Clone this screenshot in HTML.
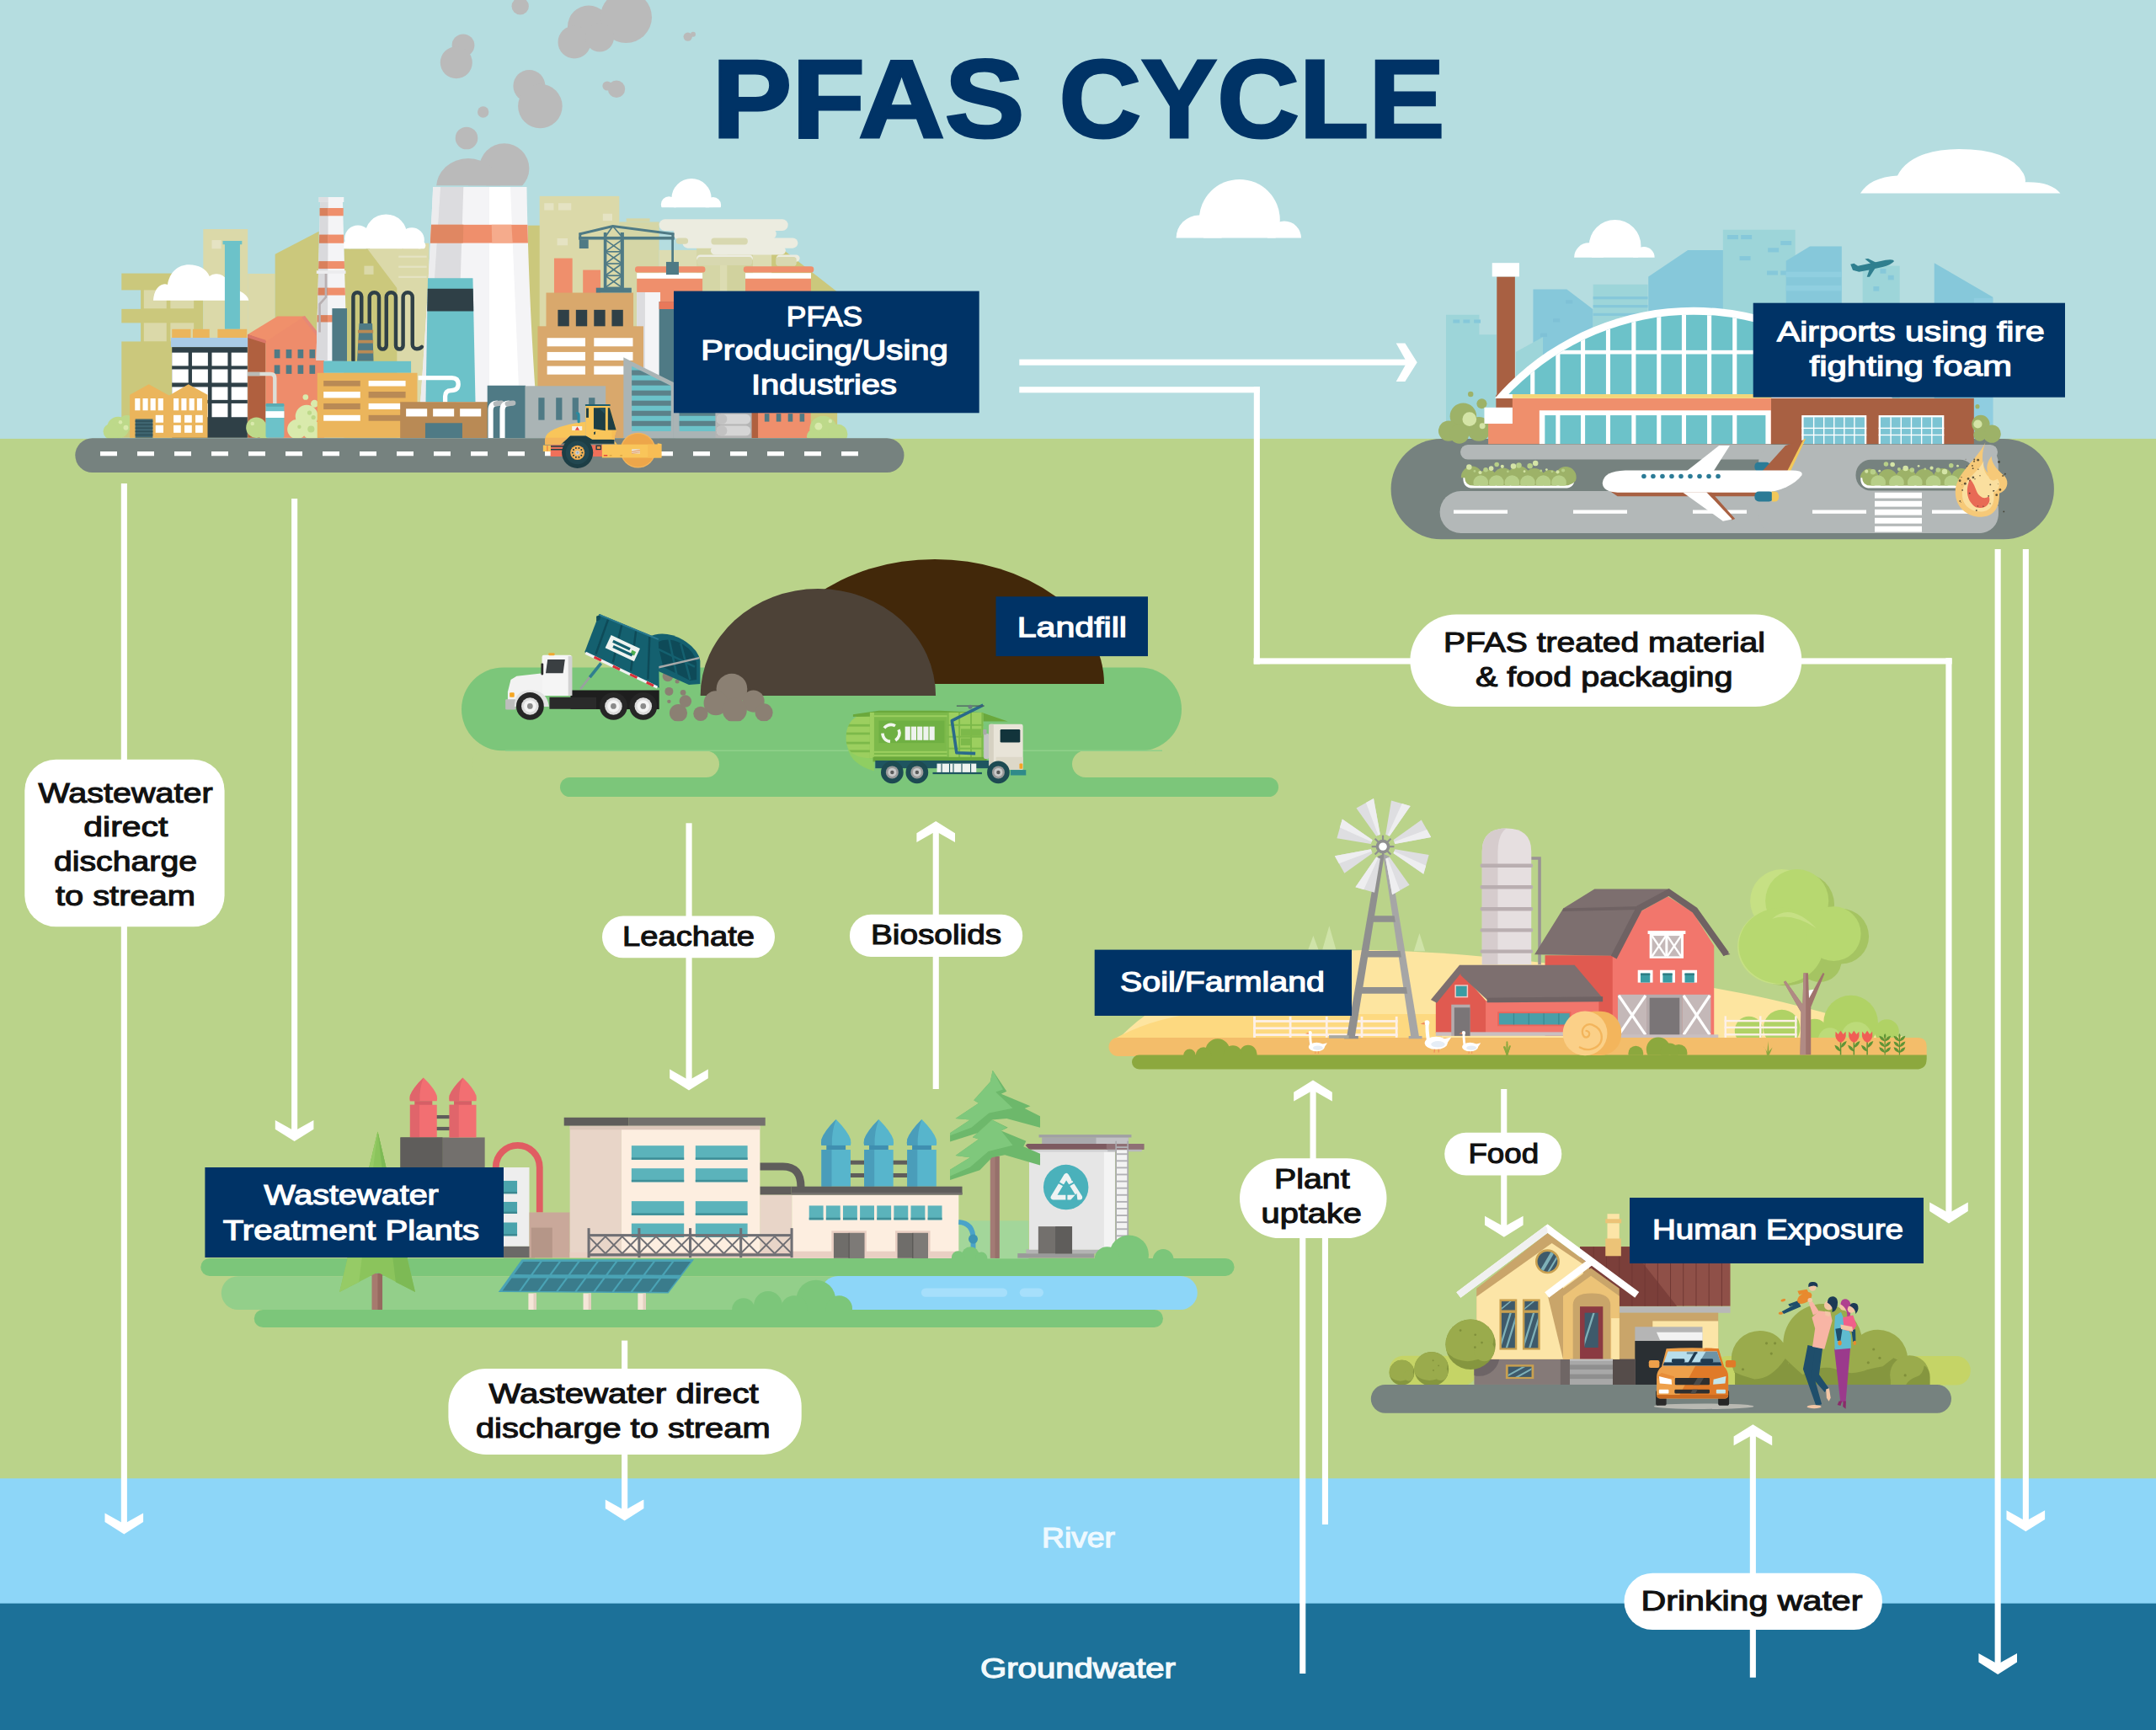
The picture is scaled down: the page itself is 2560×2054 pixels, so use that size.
<!DOCTYPE html>
<html><head><meta charset="utf-8"><title>PFAS Cycle</title>
<style>
html,body{margin:0;padding:0;background:#bad38a;}
svg{display:block;}
text{font-family:"Liberation Sans",sans-serif;}
</style></head><body>
<svg xmlns="http://www.w3.org/2000/svg" width="2560" height="2054" viewBox="0 0 2560 2054">
<g id="bg">
<rect x="0" y="0" width="2560" height="522" fill="#b5dde0"/>
<rect x="0" y="520.9" width="2560" height="1236" fill="#bad38a"/>
<rect x="0" y="1755.3" width="2560" height="150" fill="#8dd6f8"/>
<rect x="0" y="1903.7" width="2560" height="151" fill="#1c7199"/>
</g>
<g id="factory">
<clipPath id="chim"><polygon points="1349,-138 1492,-138 1520,905 1323,905"/></clipPath>
<g transform="translate(130,260) scale(0.185529)">
<rect x="77" y="348" width="523" height="1052" fill="#cbc87c" />
<rect x="220" y="455" width="145" height="118" fill="#dbd9a9" />
<rect x="390" y="455" width="150" height="118" fill="#dbd9a9" />
<rect x="220" y="665" width="145" height="118" fill="#dbd9a9" />
<rect x="390" y="665" width="150" height="118" fill="#dbd9a9" />
<rect x="70" y="455" width="130" height="121" fill="#b5dde0" />
<rect x="70" y="665" width="130" height="119" fill="#b5dde0" />
<rect x="600" y="65" width="285" height="1335" fill="#dbd9a9" />
<rect x="655" y="135" width="60" height="55" fill="#e5e3c3" />
<rect x="885" y="350" width="175" height="1050" fill="#dbd9a9" />
<polygon points="1060,225 1340,80 1340,1400 1060,1400" fill="#cbc87c" />
<rect x="1500" y="190" width="350" height="1210" fill="#cbc87c" />
<polygon points="1650,190 1850,190 1850,455" fill="#dbd9a9" />
<rect x="1630" y="300" width="60" height="55" fill="#dbd9a9" />
<rect x="1840" y="155" width="205" height="1245" fill="#dbd9a9" />
<rect x="1850" y="235" width="180" height="12" fill="#e5e3c3" />
<rect x="1850" y="300" width="180" height="12" fill="#e5e3c3" />
<rect x="1850" y="365" width="180" height="12" fill="#e5e3c3" />
</g>
<g transform="translate(560,180) scale(0.278293)">
<rect x="240" y="315" width="70" height="907" fill="#cbc87c" />
<rect x="290" y="190" width="340" height="1032" fill="#dbd9a9" />
<rect x="310" y="220" width="40" height="30" fill="#e5e3c3" />
<rect x="370" y="220" width="55" height="30" fill="#e5e3c3" />
<rect x="560" y="265" width="40" height="30" fill="#e5e3c3" />
<rect x="365" y="370" width="45" height="30" fill="#e5e3c3" />
<rect x="630" y="300" width="170" height="922" fill="#d5d6a6" />
<rect x="660" y="285" width="100" height="15" fill="#d5d6a6" />
<rect x="800" y="420" width="490" height="802" fill="#dcdcb2" />
<polygon points="1280,380 1560,598 1560,1222 1280,1222" fill="#cbc87c" />
<rect x="960" y="400" width="100" height="200" fill="#d5d6a6" />
<rect x="1090" y="380" width="110" height="220" fill="#d1d29e" />
<rect x="800" y="288" width="550" height="50" fill="#ecece0" rx="25" />
<rect x="860" y="330" width="440" height="42" fill="#ecece0" rx="20" />
<rect x="900" y="368" width="492" height="44" fill="#ecece0" rx="22" />
<rect x="1020" y="405" width="320" height="35" fill="#ecece0" rx="18" />
<rect x="960" y="440" width="240" height="30" fill="#ecece0" rx="15" />
<rect x="1300" y="440" width="100" height="30" fill="#ecece0" rx="15" />
<rect x="872" y="368" width="52" height="26" fill="#d8d8b0" rx="13" />
<rect x="1022" y="368" width="156" height="29" fill="#d8d8b0" rx="13" />
<rect x="963" y="449" width="234" height="36" fill="#d8d8b0" rx="13" />
<rect x="1298" y="449" width="88" height="39" fill="#d8d8b0" rx="13" />
<clipPath id="cl3"><rect x="780" y="100" width="320" height="138"/></clipPath><g clip-path="url(#cl3)">
<circle cx="938" cy="200" r="85" fill="#fff" />
<circle cx="842" cy="225" r="34" fill="#fff" />
<circle cx="1030" cy="228" r="34" fill="#fff" />
<rect x="842" y="210" width="188" height="28" fill="#fff" />
</g>
</g>
<g transform="translate(130,260) scale(0.185529)">
<path d="M280,521.7 C285,460 310,425 345,418 Q358,415 372,420 C385,340 440,293 508,293 C570,293 620,320 640,366 Q660,350 688,352 C740,356 770,400 772,450 Q800,445 835,462 C870,480 888,500 891,521.7 Z" fill="#fff" />
<clipPath id="cl2"><rect x="1480" y="-100" width="600" height="290"/></clipPath><g clip-path="url(#cl2)">
<circle cx="1770" cy="105" r="135" fill="#fff" />
<circle cx="1590" cy="125" r="85" fill="#fff" />
<circle cx="1935" cy="135" r="80" fill="#fff" />
<circle cx="1520" cy="170" r="30" fill="#fff" />
<circle cx="1995" cy="170" r="28" fill="#fff" />
<rect x="1520" y="140" width="475" height="50" fill="#fff" />
</g>
</g>
<g transform="translate(80,180) scale(0.278293)">
<clipPath id="ct"><path d="M1560,150 L1960,150 C1965,500 1985,900 2012,1222 L1495,1222 C1520,900 1545,500 1560,150 Z"/></clipPath>
<g clip-path="url(#ct)">
<rect x="1480" y="150" width="540" height="1072" fill="#f4f4f6" />
<polygon points="1590,150 1690,150 1655,1222 1520,1222" fill="#dcdcdf" />
<polygon points="1560,150 1592,150 1522,1222 1495,1222" fill="#ececee" />
<polygon points="1800,150 1890,150 1935,1222 1800,1222" fill="#ffffff" />
<rect x="1480" y="312" width="540" height="78" fill="#ef8f6c" />
<polygon points="1540,312 1690,312 1688,390 1535,390" fill="#e08762" />
<polygon points="1810,312 1895,312 1900,390 1812,390" fill="#f5ab8c" />
</g>
</g>
<g transform="translate(130,260) scale(0.185529)">
<circle cx="55" cy="1335" r="70" fill="#bdd98a" />
<circle cx="110" cy="1305" r="50" fill="#bdd98a" />
<circle cx="10" cy="1360" r="50" fill="#bdd98a" />
<circle cx="70" cy="1300" r="12" fill="#d9eaac" />
<circle cx="105" cy="1335" r="16" fill="#d9eaac" />
<rect x="738" y="160" width="97" height="545" fill="#6cc2c9" />
<rect x="725" y="140" width="123" height="23" fill="#6cc2c9" />
<rect x="400" y="705" width="120" height="55" fill="#ebb55c" />
<rect x="533" y="705" width="107" height="55" fill="#ebb55c" />
<rect x="692" y="705" width="188" height="55" fill="#ebb55c" />
<rect x="393" y="760" width="505" height="60" fill="#a9cbe6" />
<rect x="400" y="820" width="483" height="580" fill="#2f4047" />
<rect x="400" y="855" width="105" height="85" fill="#fff" />
<rect x="528" y="855" width="102" height="85" fill="#fff" />
<rect x="655" y="855" width="102" height="85" fill="#fff" />
<rect x="780" y="855" width="103" height="85" fill="#fff" />
<rect x="400" y="962" width="105" height="86" fill="#fff" />
<rect x="528" y="962" width="102" height="86" fill="#fff" />
<rect x="655" y="962" width="102" height="86" fill="#fff" />
<rect x="780" y="962" width="103" height="86" fill="#fff" />
<rect x="400" y="1075" width="105" height="83" fill="#fff" />
<rect x="528" y="1075" width="102" height="83" fill="#fff" />
<rect x="655" y="1075" width="102" height="83" fill="#fff" />
<rect x="780" y="1075" width="103" height="83" fill="#fff" />
<rect x="400" y="1180" width="105" height="88" fill="#fff" />
<rect x="528" y="1180" width="102" height="88" fill="#fff" />
<rect x="655" y="1180" width="102" height="88" fill="#fff" />
<rect x="780" y="1180" width="103" height="88" fill="#fff" />
<polygon points="130,1400 130,1125 252,1058 378,1128 385,1128 505,1058 628,1125 628,1400" fill="#ebb55c" />
<rect x="163" y="1148" width="33" height="77" fill="#fff" />
<rect x="213" y="1148" width="33" height="77" fill="#fff" />
<rect x="262" y="1148" width="33" height="77" fill="#fff" />
<rect x="311" y="1148" width="33" height="77" fill="#fff" />
<rect x="410" y="1148" width="33" height="77" fill="#fff" />
<rect x="460" y="1148" width="33" height="77" fill="#fff" />
<rect x="510" y="1148" width="33" height="77" fill="#fff" />
<rect x="560" y="1148" width="33" height="77" fill="#fff" />
<rect x="295" y="1255" width="50" height="48" fill="#fff" />
<rect x="410" y="1255" width="47" height="48" fill="#fff" />
<rect x="480" y="1255" width="47" height="48" fill="#fff" />
<rect x="550" y="1255" width="47" height="48" fill="#fff" />
<rect x="295" y="1320" width="50" height="48" fill="#fff" />
<rect x="410" y="1320" width="47" height="48" fill="#fff" />
<rect x="480" y="1320" width="47" height="48" fill="#fff" />
<rect x="550" y="1320" width="47" height="48" fill="#fff" />
<rect x="165" y="1280" width="112" height="120" fill="#3f6570" />
<rect x="165" y="1290" width="112" height="8" fill="#2f4f58" />
<rect x="165" y="1312" width="112" height="8" fill="#2f4f58" />
<rect x="165" y="1334" width="112" height="8" fill="#2f4f58" />
<rect x="165" y="1356" width="112" height="8" fill="#2f4f58" />
<rect x="165" y="1378" width="112" height="8" fill="#2f4f58" />
<polygon points="885,738 1075,622 1252,622 1002,795" fill="#f0906b" />
<polygon points="885,738 1000,782 1000,1400 885,1400" fill="#b0603f" />
<polygon points="885,738 1000,775 1000,797 885,760" fill="#d97568" />
<polygon points="1000,786 1250,621 1374,800 1374,1400 1000,1400" fill="#ee8c6b" />
<polygon points="1232,628 1250,620 1388,795 1370,803" fill="#e58878" />
<rect x="1055" y="835" width="36" height="56" fill="#4f7a85" />
<rect x="1130" y="835" width="36" height="56" fill="#4f7a85" />
<rect x="1205" y="835" width="36" height="56" fill="#4f7a85" />
<rect x="1280" y="835" width="36" height="56" fill="#4f7a85" />
<rect x="1055" y="935" width="36" height="56" fill="#4f7a85" />
<rect x="1130" y="935" width="36" height="56" fill="#4f7a85" />
<rect x="1205" y="935" width="36" height="56" fill="#4f7a85" />
<rect x="1280" y="935" width="36" height="56" fill="#4f7a85" />
<circle cx="940" cy="1335" r="66" fill="#bdd98a" />
<circle cx="990" cy="1370" r="40" fill="#bdd98a" />
<circle cx="915" cy="1310" r="12" fill="#d9eaac" />
<circle cx="1262" cy="1262" r="72" fill="#d9eaac" />
<circle cx="1200" cy="1345" r="62" fill="#d9eaac" />
<circle cx="1295" cy="1350" r="62" fill="#d9eaac" />
<circle cx="1255" cy="1140" r="18" fill="#d9eaac" />
<circle cx="1312" cy="1182" r="24" fill="#d9eaac" />
<circle cx="1280" cy="1240" r="14" fill="#bdd98a" />
<circle cx="1215" cy="1330" r="12" fill="#bdd98a" />
<circle cx="1290" cy="1345" r="22" fill="#bdd98a" />
<circle cx="1305" cy="1270" r="14" fill="#bdd98a" />
<path d="M885,992 H1030 Q1058,992 1058,1020 V1190" fill="none" stroke="#dcdfd8" stroke-width="24" />
<rect x="885" y="980" width="77" height="24" fill="#b9bbb6" />
<rect x="1000" y="1180" width="118" height="220" fill="#6cc2c9" rx="14" />
<rect x="1000" y="1230" width="118" height="42" fill="#fff" />
<rect x="1000" y="1180" width="118" height="20" fill="#5aaab2" rx="8" />
<polygon points="1349,-138 1492,-138 1520,905 1323,905" fill="#f4f4f6" />
<polygon points="1349,-138 1400,-138 1395,905 1323,905" fill="#d9d9dc" />
<rect x="1340" y="-140" width="160" height="32" fill="#f4f4f6" />
<rect x="1340" y="-140" width="60" height="32" fill="#dfdfe2" />
<rect x="1345" y="-70" width="55" height="50" fill="#d9805c" /><rect x="1398" y="-70" width="99" height="50" fill="#ef8f6c" />
<g clip-path="url(#chim)"><rect x="1300" y="100" width="100" height="55" fill="#d9805c" /><rect x="1398" y="100" width="142" height="55" fill="#ef8f6c" /></g>
<g clip-path="url(#chim)"><rect x="1300" y="270" width="100" height="48" fill="#d9805c" /><rect x="1398" y="270" width="142" height="48" fill="#ef8f6c" /></g>
<g clip-path="url(#chim)"><rect x="1300" y="440" width="100" height="48" fill="#d9805c" /><rect x="1398" y="440" width="142" height="48" fill="#ef8f6c" /></g>
<g clip-path="url(#chim)"><rect x="1300" y="615" width="100" height="45" fill="#d9805c" /><rect x="1398" y="615" width="142" height="45" fill="#ef8f6c" /></g>
<rect x="1325" y="330" width="187" height="20" fill="#ececee" />
<path d="M1385,350 V500 L1345,545 V725" fill="none" stroke="#b8b0b2" stroke-width="14" />
<rect x="1425" y="572" width="95" height="338" fill="#4f7a85" />
<path d="M1560,905 V496.5 a26.5,26.5 0 0 1 53,0 V700 M1664,700 V500.5 a30.5,30.5 0 0 1 61,0 V810 a23.5,23.5 0 0 0 47,0 V500 a30.25,30.25 0 0 1 60.5,0 V810 a23.25,23.25 0 0 0 46.5,0 V500 a30,30 0 0 1 60,0 V803 a28,28 0 0 0 28,28 q20,0 32,-12" fill="none" stroke="#2f4047" stroke-width="24" stroke-linecap="round"/>
<polygon points="1598,668 1682,668 1690,910 1585,910" fill="#4f7a85" />
<rect x="1590" y="710" width="98" height="20" fill="#b98a55" />
<rect x="1590" y="775" width="98" height="20" fill="#b98a55" />
<rect x="1590" y="840" width="98" height="20" fill="#b98a55" />
</g>
<g transform="translate(80,180) scale(0.278293)">
<polygon points="1538,540 1730,540 1741,1068 1529,1068" fill="#6cc2c9" />
<polygon points="1537,585 1731,585 1733,681 1535,681" fill="#2f4047" />
<path d="M1497,965 H1640 q28,0 28,27 q0,27 -30,27 q-26,0 -26,25 V1070" fill="none" stroke="#fff" stroke-width="19" />
</g>
<g transform="translate(130,260) scale(0.185529)">
<rect x="1370" y="910" width="560" height="75" fill="#6cc2c9" />
<rect x="1330" y="985" width="640" height="415" fill="#ebb55c" />
<rect x="1370" y="1035" width="235" height="35" fill="#b98a55" />
<rect x="1658" y="1035" width="237" height="35" fill="#fff" />
<rect x="1370" y="1105" width="235" height="40" fill="#fff" />
<rect x="1658" y="1105" width="237" height="40" fill="#b98a55" />
<rect x="1370" y="1180" width="235" height="38" fill="#b98a55" />
<rect x="1658" y="1180" width="237" height="38" fill="#fff" />
<rect x="1370" y="1255" width="235" height="37" fill="#fff" />
<rect x="1658" y="1255" width="237" height="37" fill="#b98a55" />
</g>
<g transform="translate(80,180) scale(0.278293)">
<rect x="1420" y="1068" width="375" height="154" fill="#b98a55" />
<rect x="1445" y="1097" width="90" height="33" fill="#fff" />
<rect x="1560" y="1097" width="90" height="33" fill="#fff" />
<rect x="1675" y="1097" width="90" height="33" fill="#fff" />
<rect x="1527" y="1158" width="158" height="64" fill="#4f7a85" />
<rect x="1792" y="998" width="163" height="224" fill="#4f7a85" />
<path d="M1806,1222 V1102 q0,-28 30,-29" fill="none" stroke="#fff" stroke-width="22" />
<path d="M1828,1076 q12,-3 24,-3" fill="none" stroke="#b3b9bb" stroke-width="22" stroke-linecap="round"/>
<path d="M1856,1222 V1102 q0,-28 30,-29" fill="none" stroke="#fff" stroke-width="22" />
<path d="M1878,1076 q12,-3 24,-3" fill="none" stroke="#b3b9bb" stroke-width="22" stroke-linecap="round"/>
</g>
<g transform="translate(560,180) scale(0.278293)">
<rect x="352" y="455" width="78" height="157" fill="#ef8f6c" />
<rect x="475" y="505" width="75" height="107" fill="#ef8f6c" />
<rect x="697" y="490" width="300" height="26" fill="#ef8f6c" rx="12" />
<rect x="705" y="518" width="280" height="24" fill="#fff" />
<rect x="705" y="542" width="280" height="98" fill="#ef8f6c" />
<rect x="1160" y="490" width="300" height="26" fill="#ef8f6c" rx="12" />
<rect x="1168" y="518" width="280" height="24" fill="#fff" />
<rect x="1168" y="542" width="280" height="98" fill="#ef8f6c" />
<rect x="705" y="600" width="100" height="622" fill="#f4f4f6" />
<rect x="705" y="600" width="35" height="622" fill="#dcdcdf" />
<rect x="800" y="640" width="70" height="582" fill="#4f7a85" />
<rect x="800" y="640" width="70" height="32" fill="#e8785a" />
<rect x="318" y="602" width="372" height="158" fill="#d9a86c" />
<rect x="282" y="745" width="451" height="477" fill="#d9a86c" />
<rect x="368" y="675" width="48" height="70" fill="#2f4047" />
<rect x="445" y="675" width="48" height="70" fill="#2f4047" />
<rect x="522" y="675" width="48" height="70" fill="#2f4047" />
<rect x="598" y="675" width="48" height="70" fill="#2f4047" />
<rect x="322" y="795" width="163" height="36" fill="#fff" />
<rect x="522" y="795" width="166" height="36" fill="#fff" />
<rect x="322" y="855" width="163" height="36" fill="#fff" />
<rect x="522" y="855" width="166" height="36" fill="#fff" />
<rect x="322" y="915" width="163" height="36" fill="#fff" />
<rect x="522" y="915" width="166" height="36" fill="#fff" />
<rect x="531" y="581" width="151" height="21" fill="#4f7a85" />
<rect x="563.4" y="345" width="13.0" height="245" fill="#4f7a85" />
<rect x="635" y="345" width="15" height="245" fill="#4f7a85" />
<line x1="570" y1="376" x2="642" y2="427" stroke="#4f7a85" stroke-width="6" />
<line x1="642" y1="376" x2="570" y2="427" stroke="#4f7a85" stroke-width="6" />
<line x1="570" y1="427" x2="642" y2="427" stroke="#4f7a85" stroke-width="6" />
<line x1="570" y1="427" x2="642" y2="478" stroke="#4f7a85" stroke-width="6" />
<line x1="642" y1="427" x2="570" y2="478" stroke="#4f7a85" stroke-width="6" />
<line x1="570" y1="478" x2="642" y2="478" stroke="#4f7a85" stroke-width="6" />
<line x1="570" y1="478" x2="642" y2="529" stroke="#4f7a85" stroke-width="6" />
<line x1="642" y1="478" x2="570" y2="529" stroke="#4f7a85" stroke-width="6" />
<line x1="570" y1="529" x2="642" y2="529" stroke="#4f7a85" stroke-width="6" />
<line x1="570" y1="529" x2="642" y2="580" stroke="#4f7a85" stroke-width="6" />
<line x1="642" y1="529" x2="570" y2="580" stroke="#4f7a85" stroke-width="6" />
<line x1="570" y1="580" x2="642" y2="580" stroke="#4f7a85" stroke-width="6" />
<rect x="457.4" y="362.6" width="406.9" height="13.0" fill="#4f7a85" />
<path d="M459.4,352 L602.4,318 L863.7,352" fill="none" stroke="#4f7a85" stroke-width="10.5" stroke-linejoin="miter"/>
<rect x="457.4" y="347" width="10.600000000000023" height="29" fill="#4f7a85" />
<rect x="853" y="347" width="11.299999999999955" height="29" fill="#4f7a85" />
<line x1="602.4" y1="318" x2="570" y2="364" stroke="#4f7a85" stroke-width="6" />
<line x1="602.4" y1="318" x2="642" y2="364" stroke="#4f7a85" stroke-width="6" />
<rect x="459.4" y="375" width="39.0" height="38.30000000000001" fill="#4f7a85" />
<rect x="852.6" y="370" width="9.799999999999955" height="102" fill="#4f7a85" />
<rect x="829.9" y="470.5" width="53.89999999999998" height="54.60000000000002" fill="#4f7a85" />
<rect x="228" y="1000" width="344" height="222" fill="#aab4b5" />
<rect x="285" y="1050" width="26" height="95" fill="#4f7a85" />
<rect x="360" y="1050" width="26" height="95" fill="#4f7a85" />
<rect x="430" y="1050" width="26" height="95" fill="#4f7a85" />
<rect x="500" y="1050" width="26" height="95" fill="#4f7a85" />
<polygon points="648,878 862,985 862,1222 648,1222" fill="#aab4b5" />
<clipPath id="gl"><polygon points="683,915 851,1000 851,1193 683,1193"/></clipPath><g clip-path="url(#gl)">
<rect x="680" y="900" width="180" height="300" fill="#6cc2c9" />
<rect x="680" y="932.6" width="180" height="21.700000000000045" fill="#5b8189" />
<rect x="680" y="975.9" width="180" height="21.700000000000045" fill="#5b8189" />
<rect x="680" y="1019.2" width="180" height="21.700000000000045" fill="#5b8189" />
<rect x="680" y="1062.5" width="180" height="21.700000000000045" fill="#5b8189" />
<rect x="680" y="1105.8" width="180" height="21.700000000000045" fill="#5b8189" />
<rect x="680" y="1149.1" width="180" height="21.700000000000045" fill="#5b8189" />
</g>
<rect x="860" y="1113" width="185" height="109" fill="#aab4b5" />
<rect x="886" y="1113" width="159" height="80" fill="#6cc2c9" />
<rect x="886" y="1105.8" width="159" height="21.700000000000045" fill="#5b8189" />
<rect x="886" y="1149.1" width="159" height="21.700000000000045" fill="#5b8189" />
<rect x="1040" y="1113" width="160" height="109" fill="#b5b5b5" />
<rect x="1045" y="1120" width="145" height="42" fill="#d5d5d5" rx="20" />
<rect x="1045" y="1120" width="45" height="42" fill="#c2c2c2" rx="20" />
<rect x="1045" y="1170" width="145" height="42" fill="#d5d5d5" rx="20" />
<rect x="1045" y="1170" width="45" height="42" fill="#c2c2c2" rx="20" />
<rect x="1195" y="1113" width="30" height="109" fill="#b0603f" />
<rect x="1222" y="1113" width="225" height="109" fill="#ef8f6c" />
<rect x="1250" y="1118" width="20" height="34" fill="#4f7a85" />
<rect x="1300" y="1118" width="20" height="34" fill="#4f7a85" />
<rect x="1350" y="1118" width="20" height="34" fill="#4f7a85" />
<rect x="1400" y="1118" width="20" height="34" fill="#4f7a85" />
<circle cx="1500" cy="1185" r="58" fill="#bdd98a" />
<circle cx="1562" cy="1205" r="42" fill="#bdd98a" />
<circle cx="1460" cy="1215" r="30" fill="#bdd98a" />
<circle cx="1480" cy="1172" r="16" fill="#d9eaac" />
<circle cx="1530" cy="1150" r="8" fill="#d9eaac" />
</g>
<rect x="89.3" y="520.2" width="984.2" height="40.799999999999955" fill="#76827f" rx="20.4" />
<rect x="119" y="536" width="20" height="5.2999999999999545" fill="#fff" />
<rect x="163" y="536" width="20" height="5.2999999999999545" fill="#fff" />
<rect x="207" y="536" width="20" height="5.2999999999999545" fill="#fff" />
<rect x="251" y="536" width="20" height="5.2999999999999545" fill="#fff" />
<rect x="295" y="536" width="20" height="5.2999999999999545" fill="#fff" />
<rect x="339" y="536" width="20" height="5.2999999999999545" fill="#fff" />
<rect x="383" y="536" width="20" height="5.2999999999999545" fill="#fff" />
<rect x="427" y="536" width="20" height="5.2999999999999545" fill="#fff" />
<rect x="471" y="536" width="20" height="5.2999999999999545" fill="#fff" />
<rect x="515" y="536" width="20" height="5.2999999999999545" fill="#fff" />
<rect x="559" y="536" width="20" height="5.2999999999999545" fill="#fff" />
<rect x="603" y="536" width="20" height="5.2999999999999545" fill="#fff" />
<rect x="647" y="536" width="20" height="5.2999999999999545" fill="#fff" />
<rect x="691" y="536" width="20" height="5.2999999999999545" fill="#fff" />
<rect x="735" y="536" width="20" height="5.2999999999999545" fill="#fff" />
<rect x="779" y="536" width="20" height="5.2999999999999545" fill="#fff" />
<rect x="823" y="536" width="20" height="5.2999999999999545" fill="#fff" />
<rect x="867" y="536" width="20" height="5.2999999999999545" fill="#fff" />
<rect x="911" y="536" width="20" height="5.2999999999999545" fill="#fff" />
<rect x="955" y="536" width="20" height="5.2999999999999545" fill="#fff" />
<rect x="999" y="536" width="20" height="5.2999999999999545" fill="#fff" />
<g transform="translate(630,440) scale(0.092764)">
<circle cx="1375" cy="1020" r="226" fill="#f3b55c" />
<circle cx="1375" cy="1020" r="212" fill="#eda64a" />
<rect x="255" y="952" width="670" height="148" fill="#f0705a" />
<rect x="255" y="962" width="175" height="16" fill="#1d3e45" />
<rect x="255" y="1002" width="175" height="16" fill="#1d3e45" />
<rect x="835" y="955" width="70" height="60" fill="#1d3e45" />
<rect x="850" y="970" width="42" height="32" fill="#f08a4a" />
<rect x="915" y="945" width="760" height="170" fill="#f9c55a" />
<rect x="1500" y="945" width="175" height="170" fill="#f7bd55" />
<polygon points="1625,930 1675,938 1675,950 1625,950" fill="#f9c55a" />
<polygon points="1075,900 1110,945 1075,945" fill="#f9c55a" />
<rect x="1295" y="1005" width="105" height="57" fill="#e9e2d2" />
<line x1="1295" y1="1040" x2="1400" y2="1018" stroke="#e88a4a" stroke-width="10" />
<line x1="1295" y1="1062" x2="1400" y2="1042" stroke="#e88a4a" stroke-width="8" />
<rect x="935" y="1078" width="50" height="17" fill="#e8443a" rx="6" />
<rect x="1010" y="1080" width="30" height="13" fill="#d9a040" />
<rect x="1145" y="1080" width="30" height="13" fill="#d9a040" />
<rect x="160" y="955" width="98" height="80" fill="#f9c55a" />
<rect x="205" y="960" width="17" height="70" fill="#f08a4a" />
<polygon points="400,930 510,832 720,832 790,882 1068,882 1068,935 790,935" fill="#1d3e45" />
<path d="M185,945 V880 Q190,800 300,752 Q450,682 705,655 L705,832 L505,832 L385,945 Z" fill="#f9c55a" />
<path d="M185,945 V880 Q188,868 195,860 L480,860 L385,945 Z" fill="#f3b55c" />
<rect x="530" y="712" width="130" height="54" fill="#f4f0ea" />
<polygon points="570,762 598,716 626,762" fill="#e8443a" />
<path d="M616,655 V575 Q616,548 596,545" fill="none" stroke="#2a8aa0" stroke-width="34" stroke-linecap="round"/>
<polygon points="705,448 1005,448 1012,470 1100,760 1078,832 1078,882 790,882 705,832" fill="#f9c55a" />
<polygon points="1040,760 1100,760 1078,832 1078,882 1040,882" fill="#f7bd55" />
<rect x="700" y="430" width="320" height="23" fill="#1f5f70" rx="6" />
<rect x="712" y="480" width="31" height="122" fill="#1d3e45" />
<polygon points="808,478 958,478 958,768 808,746" fill="#1d3e45" />
<polygon points="990,478 1012,478 1096,760 990,760" fill="#1d3e45" />
<polygon points="808,478 958,478 958,560 870,478" fill="#24505a" />
<polygon points="808,790 832,780 828,815 812,822" fill="#1d3e45" />
<circle cx="600" cy="1050" r="200" fill="#1d3e45" />
<circle cx="600" cy="1050" r="150" fill="#224750" />
<circle cx="600" cy="1050" r="92" fill="#eda64a" />
<circle cx="600" cy="1050" r="80" fill="#f3b55c" />
<circle cx="662.0" cy="1050.0" r="11" fill="#1d3e45" />
<circle cx="650.1590536512467" cy="1086.4426856421333" r="11" fill="#1d3e45" />
<circle cx="619.1590536512467" cy="1108.9655040102996" r="11" fill="#1d3e45" />
<circle cx="580.8409463487533" cy="1108.9655040102996" r="11" fill="#1d3e45" />
<circle cx="549.8409463487533" cy="1086.4426856421333" r="11" fill="#1d3e45" />
<circle cx="538.0" cy="1050.0" r="11" fill="#1d3e45" />
<circle cx="549.8409463487533" cy="1013.5573143578666" r="11" fill="#1d3e45" />
<circle cx="580.8409463487533" cy="991.0344959897005" r="11" fill="#1d3e45" />
<circle cx="619.1590536512467" cy="991.0344959897004" r="11" fill="#1d3e45" />
<circle cx="650.1590536512467" cy="1013.5573143578666" r="11" fill="#1d3e45" />
<circle cx="600" cy="1050" r="27" fill="#c9cfd2" />
<circle cx="600" cy="1050" r="12" fill="#8fa0a8" />
</g>
<circle cx="617.7" cy="7.4" r="10.2" fill="#bababa" />
<circle cx="699" cy="31.5" r="25" fill="#bababa" />
<circle cx="743.4" cy="20.4" r="30.6" fill="#bababa" />
<circle cx="682" cy="50" r="19.5" fill="#bababa" />
<circle cx="712" cy="44.5" r="17" fill="#bababa" />
<circle cx="550" cy="53.8" r="13.4" fill="#bababa" />
<circle cx="541.8" cy="74.2" r="19" fill="#bababa" />
<circle cx="816.7" cy="43.6" r="5.2" fill="#bababa" />
<circle cx="823" cy="40.8" r="3" fill="#bababa" />
<circle cx="628.4" cy="102" r="19" fill="#bababa" />
<circle cx="641.4" cy="126" r="26.3" fill="#bababa" />
<circle cx="732" cy="105.8" r="10.2" fill="#bababa" />
<circle cx="721" cy="102" r="5.6" fill="#bababa" />
<circle cx="573.7" cy="133" r="6.7" fill="#bababa" />
<circle cx="554" cy="164" r="13.3" fill="#bababa" />
<clipPath id="smk"><rect x="500" y="150" width="140" height="70.3"/></clipPath><g clip-path="url(#smk)">
<circle cx="598.7" cy="200" r="29.7" fill="#bababa" />
<ellipse cx="556" cy="223" rx="38" ry="35" fill="#bababa" />
<rect x="556" y="200" width="64" height="25" fill="#bababa" />
</g>
</g>
<g id="airport">
<g transform="translate(1640,260) scale(0.231911)">
<polygon points="332,490 502,490 502,592 590,592 590,1125 332,1125" fill="#9dd5d9" />
<rect x="368" y="515" width="34" height="18" fill="#86c8da" />
<rect x="420" y="515" width="34" height="18" fill="#86c8da" />
<rect x="475" y="515" width="34" height="18" fill="#86c8da" />
<polygon points="778,360 950,360 1085,462 1085,1125 778,1125" fill="#86c8da" />
<rect x="945" y="415" width="35" height="18" fill="#7fc1d6" />
<rect x="880" y="510" width="35" height="18" fill="#7fc1d6" />
<rect x="815" y="585" width="35" height="18" fill="#7fc1d6" />
<polygon points="690,680 828,605 828,1125 690,1125" fill="#9dd5d9" />
<rect x="1085" y="335" width="280" height="790" fill="#9dd5d9" />
<rect x="1085" y="397" width="280" height="14" fill="#86c8da" />
<rect x="1085" y="440" width="280" height="14" fill="#86c8da" />
<rect x="1085" y="482" width="280" height="14" fill="#86c8da" />
<polygon points="1368,295 1570,160 1768,160 1768,1125 1368,1125" fill="#86c8da" />
<rect x="1750" y="55" width="370" height="1070" fill="#9dd5d9" />
<rect x="1772" y="82" width="56" height="22" fill="#86c8da" />
<rect x="1842" y="82" width="56" height="22" fill="#86c8da" />
<rect x="2045" y="112" width="56" height="22" fill="#86c8da" />
<rect x="1980" y="148" width="56" height="22" fill="#86c8da" />
<rect x="1835" y="190" width="56" height="22" fill="#86c8da" />
<rect x="1975" y="265" width="56" height="22" fill="#86c8da" />
<rect x="2045" y="265" width="56" height="22" fill="#86c8da" />
<clipPath id="cl4"><rect x="950" y="-20" width="500" height="217"/></clipPath><g clip-path="url(#cl4)">
<circle cx="1197" cy="137" r="133" fill="#fff" />
<circle cx="1063" cy="197" r="75" fill="#fff" />
<circle cx="1345" cy="197" r="55" fill="#fff" />
</g>
</g>
<g transform="translate(2040,260) scale(0.231911)">
<polygon points="348,215 470,140 633,140 633,1125 348,1125" fill="#86c8da" />
<rect x="348" y="270" width="285" height="28" fill="#90cfe0" />
<rect x="348" y="340" width="285" height="28" fill="#90cfe0" />
<rect x="740" y="240" width="190" height="885" fill="#9dd5d9" />
<rect x="870" y="288" width="30" height="24" fill="#86c8da" />
<rect x="795" y="345" width="30" height="24" fill="#86c8da" />
<rect x="830" y="255" width="30" height="24" fill="#86c8da" />
<polygon points="1107,225 1407,400 1407,1125 1107,1125" fill="#86c8da" />
<rect x="1310" y="405" width="97" height="720" fill="#8fcde0" />
<path d="M678,232 L696,227 L716,240 L858,210 Q900,203 901,217 Q884,236 842,246 L803,254 L776,296 L762,296 L774,261 L722,271 L690,262 Z" fill="#2f7f8f" />
<polygon points="752,205 768,203 820,228 790,235" fill="#2f7f8f" />
</g>
<rect x="1651.6" y="521" width="787.3000000000002" height="119.29999999999995" fill="#76827f" rx="59.6" />
<g transform="translate(1640,260) scale(0.231911)">
<circle cx="420" cy="1010" r="68" fill="#9db268" />
<circle cx="345" cy="1085" r="52" fill="#9db268" />
<circle cx="500" cy="1075" r="62" fill="#9db268" />
<circle cx="515" cy="945" r="26" fill="#9db268" />
<circle cx="458" cy="897" r="14" fill="#9db268" />
<circle cx="400" cy="1100" r="50" fill="#9db268" />
<circle cx="452" cy="1025" r="36" fill="#d4e4a6" />
<circle cx="518" cy="1060" r="15" fill="#d4e4a6" />
<rect x="592" y="295" width="93" height="670" fill="#a86042" />
<rect x="568" y="225" width="139" height="70" fill="#fff" />
<rect x="588" y="900" width="84" height="68" fill="#a86042" />
<polygon points="548,1048 672,1048 672,918 1998,918 1998,1152 548,1152" fill="#ef8f6c" />
<rect x="528" y="965" width="144" height="83" fill="#fff" />
<clipPath id="dm1"><rect x="560" y="300" width="2100" height="618"/></clipPath>
<clipPath id="dm2"><rect x="560" y="300" width="2100" height="597"/></clipPath>
<g clip-path="url(#dm1)"><circle cx="1600" cy="1796" r="1344" fill="#fff" /></g>
<g clip-path="url(#dm2)"><circle cx="1600" cy="1796" r="1306" fill="#6cc2c9" />
<clipPath id="dm3"><circle cx="1600" cy="1796" r="1306"/></clipPath><g clip-path="url(#dm3)">
<rect x="764" y="400" width="22" height="500" fill="#fff" />
<rect x="894" y="400" width="22" height="500" fill="#fff" />
<rect x="1022" y="400" width="22" height="500" fill="#fff" />
<rect x="1151" y="400" width="22" height="500" fill="#fff" />
<rect x="1282" y="400" width="22" height="500" fill="#fff" />
<rect x="1411" y="400" width="22" height="500" fill="#fff" />
<rect x="1539" y="400" width="22" height="500" fill="#fff" />
<rect x="1669" y="400" width="22" height="500" fill="#fff" />
<rect x="1799" y="400" width="22" height="500" fill="#fff" />
<rect x="1928" y="400" width="22" height="500" fill="#fff" />
<rect x="2057" y="400" width="22" height="500" fill="#fff" />
<rect x="560" y="672" width="1640" height="20" fill="#fff" />
</g></g>
<rect x="672" y="897" width="1326" height="21" fill="#f3d67a" />
<rect x="810" y="980" width="1185" height="172" fill="#fff" />
<rect x="838" y="1005" width="56" height="147" fill="#6cc2c9" />
<rect x="916" y="1005" width="106" height="147" fill="#6cc2c9" />
<rect x="1044" y="1005" width="107" height="147" fill="#6cc2c9" />
<rect x="1173" y="1005" width="109" height="147" fill="#6cc2c9" />
<rect x="1304" y="1005" width="107" height="147" fill="#6cc2c9" />
<rect x="1433" y="1005" width="106" height="147" fill="#6cc2c9" />
<rect x="1561" y="1005" width="108" height="147" fill="#6cc2c9" />
<rect x="1691" y="1005" width="108" height="147" fill="#6cc2c9" />
<rect x="1821" y="1005" width="147" height="147" fill="#6cc2c9" />
<rect x="1998" y="918" width="302" height="234" fill="#a86042" />
</g>
<g transform="translate(2040,260) scale(0.231911)">
<rect x="272" y="918" width="1038" height="234" fill="#a86042" />
<rect x="428" y="1005" width="332" height="147" fill="#fff" />
<rect x="438" y="1015" width="312" height="137" fill="#7cc4d3" />
<rect x="428" y="1068" width="332" height="6" fill="#fff" />
<rect x="428" y="1103" width="332" height="6" fill="#fff" />
<rect x="487.0" y="1015" width="6.0" height="137" fill="#fff" />
<rect x="539.0" y="1015" width="6.0" height="137" fill="#fff" />
<rect x="591.0" y="1015" width="6.0" height="137" fill="#fff" />
<rect x="643.0" y="1015" width="6.0" height="137" fill="#fff" />
<rect x="695.0" y="1015" width="6.0" height="137" fill="#fff" />
<rect x="822" y="1005" width="335" height="147" fill="#fff" />
<rect x="832" y="1015" width="315" height="137" fill="#7cc4d3" />
<rect x="822" y="1068" width="335" height="6" fill="#fff" />
<rect x="822" y="1103" width="335" height="6" fill="#fff" />
<rect x="881.5" y="1015" width="6.0" height="137" fill="#fff" />
<rect x="934.0" y="1015" width="6.0" height="137" fill="#fff" />
<rect x="986.5" y="1015" width="6.0" height="137" fill="#fff" />
<rect x="1039.0" y="1015" width="6.0" height="137" fill="#fff" />
<rect x="1091.5" y="1015" width="6.0" height="137" fill="#fff" />
<circle cx="1345" cy="1050" r="46" fill="#9db268" />
<circle cx="1402" cy="1100" r="46" fill="#9db268" />
<circle cx="1340" cy="1105" r="32" fill="#9db268" />
<circle cx="1328" cy="960" r="11" fill="#9db268" />
<circle cx="1330" cy="1050" r="22" fill="#d4e4a6" />
</g>
<rect x="1734" y="527.9" width="638" height="17.600000000000023" fill="#b3b8b8" rx="8.8" />
<rect x="1709.6" y="583" width="663.2000000000003" height="50" fill="#b3b8b8" rx="25" />
<rect x="2088" y="527.9" width="284.8000000000002" height="105.10000000000002" fill="#b3b8b8" rx="22" />
<rect x="2203.5" y="545.7" width="141.5" height="36.89999999999998" fill="#76827f" rx="18" />
<rect x="1726" y="605.5" width="64" height="4.2999999999999545" fill="#fff" />
<rect x="1868" y="605.5" width="64" height="4.2999999999999545" fill="#fff" />
<rect x="2010" y="605.5" width="64" height="4.2999999999999545" fill="#fff" />
<rect x="2152" y="605.5" width="64" height="4.2999999999999545" fill="#fff" />
<rect x="2294" y="605.5" width="64" height="4.2999999999999545" fill="#fff" />
<rect x="2226" y="584.8" width="56" height="6.7999999999999545" fill="#fff" />
<rect x="2226" y="594.8" width="56" height="6.7999999999999545" fill="#fff" />
<rect x="2226" y="604.8" width="56" height="6.7999999999999545" fill="#fff" />
<rect x="2226" y="614.8" width="56" height="6.7999999999999545" fill="#fff" />
<rect x="2226" y="624.8" width="56" height="6.7999999999999545" fill="#fff" />
<g transform="translate(1640,260) scale(0.231911)">
<clipPath id="pl420"><path d="M400,1200 H1010 V1325 Q982,1366 935,1366 H475 Q428,1366 428,1325 L400,1325 Z"/></clipPath>
<path d="M420,1315 H990 V1330 Q990,1378 940,1378 H470 Q420,1378 420,1330 Z" fill="#fff" />
<g clip-path="url(#pl420)">
<circle cx="465.0" cy="1322" r="56" fill="#9db268" />
<circle cx="545.0" cy="1334" r="51" fill="#9db268" />
<circle cx="625.0" cy="1326" r="52" fill="#9db268" />
<circle cx="705.0" cy="1323" r="58" fill="#9db268" />
<circle cx="785.0" cy="1332" r="56" fill="#9db268" />
<circle cx="865.0" cy="1332" r="47" fill="#9db268" />
<circle cx="945.0" cy="1322" r="54" fill="#9db268" />
<circle cx="510.0" cy="1350" r="38" fill="#b7cf88" />
<circle cx="590.0" cy="1350" r="38" fill="#b7cf88" />
<circle cx="670.0" cy="1350" r="38" fill="#b7cf88" />
<circle cx="750.0" cy="1350" r="38" fill="#b7cf88" />
<circle cx="830.0" cy="1350" r="38" fill="#b7cf88" />
<circle cx="910.0" cy="1350" r="38" fill="#b7cf88" />
<circle cx="450.0" cy="1270" r="14" fill="#d4e4a6" />
<circle cx="478.3333333333333" cy="1291" r="6" fill="#b7cf88" />
<circle cx="506.6666666666667" cy="1298" r="9" fill="#d4e4a6" />
<circle cx="535.0" cy="1284" r="12" fill="#b7cf88" />
<circle cx="563.3333333333334" cy="1277" r="12" fill="#d4e4a6" />
<circle cx="591.6666666666666" cy="1257" r="12" fill="#b7cf88" />
<circle cx="620.0" cy="1267" r="9" fill="#d4e4a6" />
<circle cx="648.3333333333334" cy="1293" r="6" fill="#b7cf88" />
<circle cx="676.6666666666666" cy="1266" r="14" fill="#d4e4a6" />
<circle cx="705.0" cy="1261" r="14" fill="#b7cf88" />
<circle cx="733.3333333333333" cy="1292" r="6" fill="#d4e4a6" />
<circle cx="761.6666666666667" cy="1265" r="14" fill="#b7cf88" />
<circle cx="790.0" cy="1250" r="14" fill="#d4e4a6" />
<circle cx="818.3333333333333" cy="1289" r="6" fill="#b7cf88" />
<circle cx="846.6666666666667" cy="1283" r="6" fill="#d4e4a6" />
<circle cx="875.0" cy="1293" r="6" fill="#b7cf88" />
<circle cx="903.3333333333333" cy="1295" r="9" fill="#d4e4a6" />
<circle cx="931.6666666666667" cy="1287" r="9" fill="#b7cf88" />
</g>
</g>
<g transform="translate(2040,260) scale(0.231911)">
<clipPath id="pl730"><path d="M710,1200 H1310 V1325 Q1282,1366 1235,1366 H785 Q738,1366 738,1325 L710,1325 Z"/></clipPath>
<path d="M730,1315 H1290 V1330 Q1290,1378 1240,1378 H780 Q730,1378 730,1330 Z" fill="#fff" />
<g clip-path="url(#pl730)">
<circle cx="775.0" cy="1326" r="47" fill="#9db268" />
<circle cx="869.0" cy="1331" r="50" fill="#9db268" />
<circle cx="963.0" cy="1331" r="54" fill="#9db268" />
<circle cx="1057.0" cy="1332" r="53" fill="#9db268" />
<circle cx="1151.0" cy="1324" r="48" fill="#9db268" />
<circle cx="1245.0" cy="1326" r="50" fill="#9db268" />
<circle cx="820.0" cy="1350" r="38" fill="#b7cf88" />
<circle cx="914.0" cy="1350" r="38" fill="#b7cf88" />
<circle cx="1008.0" cy="1350" r="38" fill="#b7cf88" />
<circle cx="1102.0" cy="1350" r="38" fill="#b7cf88" />
<circle cx="1196.0" cy="1350" r="38" fill="#b7cf88" />
<circle cx="760.0" cy="1292" r="9" fill="#d4e4a6" />
<circle cx="793.3333333333334" cy="1295" r="14" fill="#b7cf88" />
<circle cx="826.6666666666666" cy="1290" r="6" fill="#d4e4a6" />
<circle cx="860.0" cy="1255" r="12" fill="#b7cf88" />
<circle cx="893.3333333333334" cy="1257" r="12" fill="#d4e4a6" />
<circle cx="926.6666666666666" cy="1281" r="9" fill="#b7cf88" />
<circle cx="960.0" cy="1276" r="14" fill="#d4e4a6" />
<circle cx="993.3333333333334" cy="1285" r="12" fill="#b7cf88" />
<circle cx="1026.6666666666667" cy="1265" r="6" fill="#d4e4a6" />
<circle cx="1060.0" cy="1280" r="6" fill="#b7cf88" />
<circle cx="1093.3333333333333" cy="1275" r="9" fill="#d4e4a6" />
<circle cx="1126.6666666666667" cy="1285" r="12" fill="#b7cf88" />
<circle cx="1160.0" cy="1294" r="14" fill="#d4e4a6" />
<circle cx="1193.3333333333333" cy="1262" r="12" fill="#b7cf88" />
<circle cx="1226.6666666666667" cy="1264" r="6" fill="#d4e4a6" />
</g>
</g>
<g transform="translate(1640,260) scale(0.231911)">
<rect x="1912" y="1245" width="80" height="47" fill="#2b7b96" rx="20" />
<polygon points="1950,1292 2070,1160 2160,1132 2172,1128 2088,1292" fill="#a86042" />
<polygon points="2160,1132 2175,1122 2095,1292 2078,1292" fill="#f3c85a" />
<polygon points="1560,1294 1730,1160 1785,1160 1700,1294" fill="#fff" />
<polygon points="1160,1385 1990,1385 1930,1420 1210,1420" fill="#a86042" />
<path d="M1133,1352 Q1138,1290 1250,1287 H2100 Q2165,1287 2153,1312 Q2130,1345 2075,1372 Q2015,1400 1950,1400 H1210 Q1135,1398 1133,1352 Z" fill="#fff" />
<circle cx="1345.0" cy="1317" r="12" fill="#2b7b96" />
<circle cx="1392.5" cy="1317" r="12" fill="#2b7b96" />
<circle cx="1440.0" cy="1317" r="12" fill="#2b7b96" />
<circle cx="1487.5" cy="1317" r="12" fill="#2b7b96" />
<circle cx="1535.0" cy="1317" r="12" fill="#2b7b96" />
<circle cx="1582.5" cy="1317" r="12" fill="#2b7b96" />
<circle cx="1630.0" cy="1317" r="12" fill="#2b7b96" />
<circle cx="1677.5" cy="1317" r="12" fill="#2b7b96" />
<circle cx="1725.0" cy="1317" r="12" fill="#2b7b96" />
<polygon points="1665,1400 1692,1400 1812,1535 1795,1542" fill="#a86042" />
<polygon points="1545,1400 1667,1400 1797,1537 1750,1547" fill="#fff" />
<rect x="1912" y="1395" width="96" height="52" fill="#2b7b96" rx="22" />
<path d="M2000,1395 H2015 Q2036,1395 2036,1421 Q2036,1447 2015,1447 H2000 Z" fill="#f3c85a" />
</g>
<g transform="translate(2040,260) scale(0.231911)">
<path d="M1375,1130 C1335,1230 1213,1300 1215,1400 C1217,1480 1280,1527 1350,1525 C1430,1523 1442,1450 1440,1405 C1480,1392 1492,1350 1470,1320 C1440,1290 1402,1262 1400,1215 C1380,1240 1370,1270 1382,1300 C1342,1262 1350,1180 1375,1130 Z" fill="#f6c978" />
<path d="M1360,1240 C1330,1300 1250,1340 1250,1410 C1250,1470 1300,1500 1350,1498 C1400,1496 1420,1450 1410,1400 C1440,1390 1450,1350 1430,1330 C1410,1345 1390,1340 1385,1320 C1365,1300 1355,1270 1360,1240 Z" fill="#fadf9f" />
<path d="M1290,1330 C1268,1380 1268,1440 1320,1476 C1372,1492 1402,1450 1386,1420 C1362,1440 1332,1420 1322,1390 C1312,1360 1302,1345 1290,1330 Z" fill="#e86a55" />
<circle cx="1394" cy="1360" r="4" fill="#3a3326" opacity="0.8"/>
<circle cx="1438" cy="1244" r="6" fill="#3a3326" opacity="0.8"/>
<circle cx="1433" cy="1357" r="2" fill="#3a3326" opacity="0.8"/>
<circle cx="1465" cy="1310" r="2" fill="#3a3326" opacity="0.8"/>
<circle cx="1330" cy="1470" r="3" fill="#3a3326" opacity="0.8"/>
<circle cx="1332" cy="1282" r="3" fill="#3a3326" opacity="0.8"/>
<circle cx="1238" cy="1340" r="6" fill="#3a3326" opacity="0.8"/>
<circle cx="1306" cy="1323" r="6" fill="#3a3326" opacity="0.8"/>
<circle cx="1275" cy="1266" r="3" fill="#3a3326" opacity="0.8"/>
<circle cx="1393" cy="1457" r="3" fill="#3a3326" opacity="0.8"/>
<circle cx="1268" cy="1230" r="2" fill="#3a3326" opacity="0.8"/>
<circle cx="1288" cy="1340" r="3" fill="#3a3326" opacity="0.8"/>
<circle cx="1458" cy="1315" r="4" fill="#3a3326" opacity="0.8"/>
<circle cx="1315" cy="1331" r="3" fill="#3a3326" opacity="0.8"/>
<circle cx="1281" cy="1330" r="6" fill="#3a3326" opacity="0.8"/>
<circle cx="1311" cy="1241" r="4" fill="#3a3326" opacity="0.8"/>
<circle cx="1341" cy="1314" r="3" fill="#3a3326" opacity="0.8"/>
<circle cx="1302" cy="1263" r="4" fill="#3a3326" opacity="0.8"/>
<circle cx="1312" cy="1231" r="4" fill="#3a3326" opacity="0.8"/>
<circle cx="1251" cy="1388" r="4" fill="#3a3326" opacity="0.8"/>
<circle cx="1444" cy="1386" r="6" fill="#3a3326" opacity="0.8"/>
<circle cx="1413" cy="1391" r="3" fill="#3a3326" opacity="0.8"/>
<circle cx="1358" cy="1471" r="3" fill="#3a3326" opacity="0.8"/>
<circle cx="1249" cy="1361" r="2" fill="#3a3326" opacity="0.8"/>
<circle cx="1426" cy="1413" r="6" fill="#3a3326" opacity="0.8"/>
<circle cx="1239" cy="1444" r="4" fill="#3a3326" opacity="0.8"/>
<circle cx="1331" cy="1234" r="6" fill="#3a3326" opacity="0.8"/>
<circle cx="1246" cy="1322" r="3" fill="#3a3326" opacity="0.8"/>
<circle cx="1265" cy="1355" r="6" fill="#3a3326" opacity="0.8"/>
<circle cx="1323" cy="1492" r="4" fill="#3a3326" opacity="0.8"/>
<circle cx="1463" cy="1498" r="4" fill="#3a3326" opacity="0.8"/>
<circle cx="1433" cy="1466" r="2" fill="#3a3326" opacity="0.8"/>
<circle cx="1385" cy="1418" r="4" fill="#3a3326" opacity="0.8"/>
<circle cx="1244" cy="1451" r="2" fill="#3a3326" opacity="0.8"/>
<circle cx="1288" cy="1404" r="4" fill="#3a3326" opacity="0.8"/>
<circle cx="1470" cy="1305" r="4" fill="#3a3326" opacity="0.8"/>
<circle cx="1305" cy="1277" r="4" fill="#3a3326" opacity="0.8"/>
<circle cx="1410" cy="1392" r="4" fill="#3a3326" opacity="0.8"/>
</g>
<clipPath id="cl5"><rect x="1380" y="190" width="200" height="92.4"/></clipPath><g clip-path="url(#cl5)">
<circle cx="1471.8" cy="260.9" r="48" fill="#fff" /><circle cx="1423.6" cy="282.6" r="27" fill="#fff" /><circle cx="1525" cy="282.6" r="20" fill="#fff" /></g>
<g transform="translate(2180,160) scale(0.139147)">
<path d="M208,500 Q290,362 525,348 Q640,128 1050,122 Q1480,122 1600,330 Q1622,372 1615,405 Q1830,398 1915,500 Z" fill="#fff" />
</g>
</g>
<g id="landfill">
<rect x="548" y="792.5" width="855" height="99.0" fill="#7cc67a" rx="49.5" />
<rect x="665" y="923" width="853" height="23" fill="#7cc67a" rx="11.5" />
<rect x="838" y="880" width="453" height="55" fill="#7cc67a" />
<rect x="560" y="891.5" width="294" height="31.5" fill="#bad38a" rx="15.7" />
<rect x="1273" y="891" width="147" height="32" fill="#bad38a" rx="16" />
<rect x="600" y="890.5" width="780" height="1.5" fill="#8fd08a" />
<g transform="translate(530,640) scale(0.278293)">
<clipPath id="mb"><rect x="0" y="0" width="3500" height="618.0476"/></clipPath><g clip-path="url(#mb)"><ellipse cx="2084.114" cy="618.0476" rx="722.2533000000001" ry="531.8084" fill="#42280a" /></g>
<clipPath id="mf"><rect x="0" y="0" width="3500" height="668"/></clipPath><g clip-path="url(#mf)"><ellipse cx="1586" cy="668" rx="502" ry="456" fill="#4d4237" /></g>
</g>
<g transform="translate(530,640) scale(0.278293)">
<clipPath id="du"><rect x="900" y="500" width="600" height="277"/></clipPath><g clip-path="url(#du)">
<circle cx="1218" cy="640" r="66" fill="#8b8073" />
<circle cx="1310" cy="692" r="47" fill="#8b8073" />
<circle cx="1150" cy="700" r="52" fill="#8b8073" />
<circle cx="1085" cy="745" r="31" fill="#8b8073" />
<circle cx="1355" cy="740" r="38" fill="#8b8073" />
<circle cx="1230" cy="730" r="52" fill="#8b8073" />
<circle cx="990" cy="742" r="38" fill="#8b8073" />
</g>
<circle cx="1020" cy="692" r="26" fill="#8b8073" />
<circle cx="950" cy="650" r="18" fill="#8b8073" />
<circle cx="1010" cy="655" r="12" fill="#8b8073" />
<circle cx="945" cy="585" r="23" fill="#8b8073" />
<circle cx="985" cy="607" r="9" fill="#8b8073" />
<circle cx="950" cy="693" r="8" fill="#8b8073" />
<circle cx="985" cy="560" r="7" fill="#8b8073" />
</g>
<g transform="translate(530,640) scale(0.278293)">
<path d="M860,418 Q930,385 1010,430 Q1075,470 1083,520 L1083,618 L1035,622 L895,560 Z" fill="#14606f" />
<path d="M900,440 Q950,415 1010,450 Q1060,480 1068,530 L1068,600 L1040,604 L925,545 Z" fill="#0e4a58" />
<line x1="905" y1="470" x2="1060" y2="545" stroke="#14606f" stroke-width="9" />
<line x1="950" y1="425" x2="985" y2="590" stroke="#14606f" stroke-width="9" />
<line x1="1000" y1="445" x2="1040" y2="600" stroke="#14606f" stroke-width="9" />
<line x1="895" y1="550" x2="1075" y2="508" stroke="#a9a9a9" stroke-width="9" stroke-linecap="round"/>
<line x1="572" y1="640" x2="615" y2="585" stroke="#9aa0a0" stroke-width="9" />
<line x1="612" y1="590" x2="660" y2="530" stroke="#2f7f8f" stroke-width="13" />
<polygon points="652,320 905,425 908,635 590,482" fill="#14606f" />
<polygon points="640,330 660,322 655,345 640,350" fill="#0e4a58" />
<line x1="689.95" y1="343.75" x2="637.7" y2="490.95" stroke="#0e4a58" stroke-width="9" />
<line x1="748.14" y1="367.9" x2="710.84" y2="526.14" stroke="#0e4a58" stroke-width="9" />
<line x1="808.86" y1="393.1" x2="787.16" y2="562.86" stroke="#0e4a58" stroke-width="9" />
<line x1="867.05" y1="417.25" x2="860.3" y2="598.05" stroke="#0e4a58" stroke-width="9" />
<line x1="652" y1="323" x2="905" y2="428" stroke="#2a7a90" stroke-width="7" />
<line x1="594" y1="486" x2="900" y2="633" stroke="#f1f1f1" stroke-width="11" />
<line x1="630.72" y1="503.64" x2="660.72" y2="518.04" stroke="#d8303a" stroke-width="11" />
<line x1="710.28" y1="541.86" x2="740.28" y2="556.26" stroke="#d8303a" stroke-width="11" />
<line x1="783.72" y1="577.14" x2="813.72" y2="591.54" stroke="#d8303a" stroke-width="11" />
<line x1="854.0999999999999" y1="610.95" x2="884.0999999999999" y2="625.35" stroke="#d8303a" stroke-width="11" />
<g transform="translate(752,466) rotate(25)"><rect x="-68" y="-30" width="136" height="60" fill="#eef3f0" /><rect x="40" y="-10" width="18" height="18" fill="#4fb050" /><rect x="-50" y="-16" width="80" height="12" fill="#14606f" /><rect x="-40" y="4" width="90" height="12" fill="#14606f" /></g>
<rect x="530" y="645" width="378" height="81" fill="#1e1e1e" />
<rect x="440" y="675" width="200" height="50" fill="#2a2a2a" />
<polygon points="262,652 275,600 300,585 412,572 412,690 262,690" fill="#f2f2f2" />
<rect x="408" y="495" width="127" height="173" fill="#f5f5f5" rx="8" />
<rect x="520" y="500" width="17" height="168" fill="#d2d2d2" />
<polygon points="432,514 506,514 498,572 424,572" fill="#3a3f42" />
<rect x="404" y="530" width="10" height="50" fill="#2a2a2a" rx="4" />
<rect x="436" y="486" width="26" height="11" fill="#f0a830" rx="4" />
<rect x="252" y="684" width="44" height="44" fill="#bdbdbd" rx="4" />
<rect x="270" y="655" width="20" height="20" fill="#f5a623" rx="4" />
<path d="M290,715 Q290,645 357,645 Q430,645 438,715 Z" fill="#e2e2e2" />
<circle cx="357" cy="713" r="59" fill="#262626" />
<circle cx="357" cy="713" r="37" fill="#dcdcdc" />
<circle cx="357" cy="713" r="26" fill="#f4f4f4" />
<circle cx="357" cy="713" r="12" fill="#8a8a8a" />
<circle cx="713" cy="713" r="59" fill="#262626" />
<circle cx="713" cy="713" r="37" fill="#dcdcdc" />
<circle cx="713" cy="713" r="26" fill="#f4f4f4" />
<circle cx="713" cy="713" r="12" fill="#8a8a8a" />
<circle cx="840" cy="713" r="59" fill="#262626" />
<circle cx="840" cy="713" r="37" fill="#dcdcdc" />
<circle cx="840" cy="713" r="26" fill="#f4f4f4" />
<circle cx="840" cy="713" r="12" fill="#8a8a8a" />
</g>
<g transform="translate(960,640) scale(0.278293)">
<path d="M165,880 Q175,960 280,990 L280,930 Z" fill="#8fce62" />
<path d="M160,850 Q160,748 268,740 L268,935 Q160,935 160,850 Z" fill="#9ccf5f" />
<g clip-path="url(#rt)"><rect x="150" y="790" width="118" height="10" fill="#7cb94a" /></g>
<g clip-path="url(#rt)"><rect x="150" y="825" width="118" height="10" fill="#7cb94a" /></g>
<g clip-path="url(#rt)"><rect x="150" y="865" width="118" height="10" fill="#7cb94a" /></g>
<g clip-path="url(#rt)"><rect x="150" y="900" width="118" height="10" fill="#7cb94a" /></g>
<clipPath id="rt"><path d="M160,850 Q160,748 268,740 L268,935 Q160,935 160,850 Z"/></clipPath>
<polygon points="190,748 300,732 560,732 740,740 850,778 745,778 745,750 190,758" fill="#6aa83c" />
<rect x="262" y="740" width="330" height="195" fill="#7cb94a" />
<rect x="262" y="740" width="18" height="195" fill="#9ccf5f" />
<rect x="280" y="752" width="312" height="7" fill="#9ccf5f" />
<rect x="280" y="905" width="312" height="7" fill="#9ccf5f" />
<rect x="280" y="920" width="312" height="7" fill="#9ccf5f" />
<rect x="300" y="775" width="280" height="95" fill="#6fb043" />
<circle cx="352" cy="828" r="36" fill="none" stroke="#f2f7ee" stroke-width="13" stroke-dasharray="52 23.4" transform="rotate(-25 352 828)"/>
<rect x="412" y="800" width="22" height="58" fill="#eef3ee" />
<rect x="438" y="800" width="22" height="58" fill="#eef3ee" />
<rect x="464" y="800" width="22" height="58" fill="#eef3ee" />
<rect x="490" y="800" width="22" height="58" fill="#eef3ee" />
<rect x="516" y="800" width="22" height="58" fill="#eef3ee" />
<rect x="592" y="740" width="153" height="195" fill="#9ccf5f" />
<rect x="592" y="740" width="7" height="195" fill="#7cb94a" />
<rect x="640" y="740" width="7" height="195" fill="#7cb94a" />
<rect x="690" y="740" width="7" height="195" fill="#7cb94a" />
<rect x="738" y="740" width="7" height="195" fill="#7cb94a" />
<rect x="592" y="790" width="153" height="7" fill="#7cb94a" />
<rect x="592" y="840" width="153" height="7" fill="#7cb94a" />
<rect x="592" y="890" width="153" height="7" fill="#7cb94a" />
<rect x="650" y="810" width="40" height="30" fill="#7cb94a" />
<rect x="697" y="810" width="40" height="30" fill="#7cb94a" />
<rect x="650" y="850" width="40" height="30" fill="#7cb94a" />
<rect x="275" y="930" width="485" height="20" fill="#6aa83c" />
<path d="M745,708 L612,775 L632,912 L712,915" fill="none" stroke="#2a6a8a" stroke-width="13" stroke-linejoin="round"/>
<line x1="632" y1="712" x2="750" y2="712" stroke="#4a5a60" stroke-width="5" />
<circle cx="690" cy="716" r="9" fill="#6a7a80" />
<rect x="748" y="830" width="22" height="108" fill="#c4c4c4" rx="6" />
<rect x="745" y="812" width="15" height="23" fill="#a9a9a9" rx="4" />
<rect x="285" y="945" width="595" height="33" fill="#1f5560" />
<rect x="548" y="958" width="168" height="42" fill="#eef2f0" />
<rect x="566" y="958" width="4" height="42" fill="#1f5560" />
<rect x="600" y="958" width="4" height="42" fill="#1f5560" />
<rect x="616" y="958" width="4" height="42" fill="#1f5560" />
<rect x="652" y="958" width="4" height="42" fill="#1f5560" />
<rect x="690" y="958" width="4" height="42" fill="#1f5560" />
<rect x="530" y="995" width="210" height="8" fill="#1f5560" />
<rect x="770" y="790" width="145" height="195" fill="#e8e4d8" rx="8" />
<rect x="770" y="790" width="20" height="195" fill="#d6d1c2" rx="5" />
<rect x="818" y="812" width="85" height="56" fill="#12343b" rx="5" />
<rect x="800" y="930" width="115" height="55" fill="#ddd8c8" rx="4" />
<rect x="900" y="958" width="14" height="22" fill="#f5a623" rx="3" />
<rect x="862" y="985" width="66" height="23" fill="#2f8a8a" />
<circle cx="357" cy="995" r="48" fill="#1d4a52" />
<circle cx="357" cy="995" r="27" fill="#9a9a9a" />
<circle cx="357" cy="995" r="18" fill="#c9c9c9" />
<circle cx="357" cy="995" r="8" fill="#5a5a5a" />
<circle cx="463" cy="995" r="48" fill="#1d4a52" />
<circle cx="463" cy="995" r="27" fill="#9a9a9a" />
<circle cx="463" cy="995" r="18" fill="#c9c9c9" />
<circle cx="463" cy="995" r="8" fill="#5a5a5a" />
<circle cx="810" cy="995" r="48" fill="#1d4a52" />
<circle cx="810" cy="995" r="27" fill="#9a9a9a" />
<circle cx="810" cy="995" r="18" fill="#c9c9c9" />
<circle cx="810" cy="995" r="8" fill="#5a5a5a" />
</g>
</g>
<g id="wwtp">
<g transform="translate(230,1260) scale(0.278293)">
<rect x="760" y="905" width="45" height="155" fill="#a77a6e" />
<rect x="785" y="905" width="20" height="155" fill="#96695f" />
<polygon points="785,300 945,985 785,900 622,985" fill="#8bc45c" />
<polygon points="785,300 945,985 862,942 835,720" fill="#7dba55" />
<polygon points="785,300 705,942 622,985" fill="#96cb66" />
<rect x="882" y="325" width="180" height="128" fill="#5f5d5b" />
</g>
<rect x="238.3" y="1494" width="1227.3" height="20.90000000000009" fill="#7cc67a" rx="10.4" />
<rect x="262.8" y="1515.3" width="837.2" height="39.700000000000045" fill="#93cf8a" rx="19.8" />
<rect x="975" y="1514.9" width="446.79999999999995" height="40.0" fill="#8dd6f8" rx="20" />
<rect x="301.8" y="1555" width="1079.2" height="21" fill="#7cc67a" rx="10.5" />
<g transform="translate(800,1260) scale(0.324675)">
<rect x="1042" y="583" width="256" height="139" fill="#a3d69a" />
<path d="M315,385 H400 Q465,385 465,460" fill="none" stroke="#5f5d5b" stroke-width="28" />
<rect x="640" y="362.6" width="62" height="15.199999999999989" fill="#5f5d5b" />
<rect x="640" y="409.6" width="62" height="15.399999999999977" fill="#5f5d5b" />
<rect x="797" y="362.6" width="63" height="15.199999999999989" fill="#5f5d5b" />
<rect x="797" y="409.6" width="63" height="15.399999999999977" fill="#5f5d5b" />
<path d="M593.45,212.8 Q636.0500000000001,255.505 646.7,285.873 Q648.83,298.21 646.7,307.7 H540.2 Q538.07,298.21 540.2,285.873 Q550.85,255.505 593.45,212.8 Z" fill="#57b5cc" />
<path d="M593.45,212.8 Q550.85,255.505 540.2,285.873 Q538.07,298.21 540.2,307.7 H578.5400000000001 Q576.4100000000001,260.25 593.45,212.8 Z" fill="#4a9dba" />
<rect x="558.3050000000001" y="307.7" width="70.28999999999996" height="16.900000000000034" fill="#3f8fb0" />
<rect x="540.2" y="323.6" width="106.5" height="134.39999999999998" fill="#57b5cc" />
<rect x="540.2" y="323.6" width="37.27499999999998" height="134.39999999999998" fill="#4a9dba" />
<path d="M749.65,212.8 Q792.25,255.505 802.9,285.873 Q805.03,298.21 802.9,307.7 H696.4 Q694.27,298.21 696.4,285.873 Q707.05,255.505 749.65,212.8 Z" fill="#57b5cc" />
<path d="M749.65,212.8 Q707.05,255.505 696.4,285.873 Q694.27,298.21 696.4,307.7 H734.74 Q732.61,260.25 749.65,212.8 Z" fill="#4a9dba" />
<rect x="714.505" y="307.7" width="70.28999999999996" height="16.900000000000034" fill="#3f8fb0" />
<rect x="696.4" y="323.6" width="106.5" height="134.39999999999998" fill="#57b5cc" />
<rect x="696.4" y="323.6" width="37.27499999999998" height="134.39999999999998" fill="#4a9dba" />
<path d="M907.05,212.8 Q949.65,255.505 960.3,285.873 Q962.43,298.21 960.3,307.7 H853.8 Q851.67,298.21 853.8,285.873 Q864.4499999999999,255.505 907.05,212.8 Z" fill="#57b5cc" />
<path d="M907.05,212.8 Q864.4499999999999,255.505 853.8,285.873 Q851.67,298.21 853.8,307.7 H892.14 Q890.01,260.25 907.05,212.8 Z" fill="#4a9dba" />
<rect x="871.905" y="307.7" width="70.28999999999996" height="16.900000000000034" fill="#3f8fb0" />
<rect x="853.8" y="323.6" width="106.5" height="134.39999999999998" fill="#57b5cc" />
<rect x="853.8" y="323.6" width="37.27499999999998" height="134.39999999999998" fill="#4a9dba" />
<rect x="315" y="488" width="117" height="232" fill="#e8d5c8" />
<rect x="432" y="488" width="610" height="232" fill="#fdeee0" />
<rect x="315" y="695" width="727" height="25" fill="#e9cfc3" />
<rect x="315" y="458" width="115" height="30" fill="#5f5d5b" />
<rect x="430" y="458" width="625" height="30" fill="#5f5d5b" />
<rect x="430" y="480" width="625" height="8" fill="#73706d" />
<rect x="495" y="528" width="52" height="52" fill="#5bb3bb" />
<rect x="495" y="572" width="52" height="8" fill="#3f8f98" />
<rect x="557" y="528" width="52" height="52" fill="#5bb3bb" />
<rect x="557" y="572" width="52" height="8" fill="#3f8f98" />
<rect x="619" y="528" width="52" height="52" fill="#5bb3bb" />
<rect x="619" y="572" width="52" height="8" fill="#3f8f98" />
<rect x="681" y="528" width="52" height="52" fill="#5bb3bb" />
<rect x="681" y="572" width="52" height="8" fill="#3f8f98" />
<rect x="743" y="528" width="52" height="52" fill="#5bb3bb" />
<rect x="743" y="572" width="52" height="8" fill="#3f8f98" />
<rect x="805" y="528" width="52" height="52" fill="#5bb3bb" />
<rect x="805" y="572" width="52" height="8" fill="#3f8f98" />
<rect x="867" y="528" width="52" height="52" fill="#5bb3bb" />
<rect x="867" y="572" width="52" height="8" fill="#3f8f98" />
<rect x="929" y="528" width="52" height="52" fill="#5bb3bb" />
<rect x="929" y="572" width="52" height="8" fill="#3f8f98" />
<rect x="577" y="620" width="128" height="100" fill="#e9cfc3" />
<rect x="585" y="628" width="112" height="92" fill="#6f6d6a" />
<rect x="641" y="628" width="56" height="92" fill="#7d7a77" />
<rect x="639" y="628" width="4" height="92" fill="#5a5856" />
<rect x="810" y="620" width="128" height="100" fill="#e9cfc3" />
<rect x="818" y="628" width="112" height="92" fill="#6f6d6a" />
<rect x="874" y="628" width="56" height="92" fill="#7d7a77" />
<rect x="872" y="628" width="4" height="92" fill="#5a5856" />
<path d="M1042,588 Q1095,592 1095,650 V705" fill="none" stroke="#4aa3c9" stroke-width="18" />
<circle cx="1095" cy="650" r="17" fill="#3d93b5" />
</g>
<g transform="translate(1110,1260) scale(0.144540)">
<rect x="680" y="1578" width="630" height="38" fill="#9a9a9a" />
<rect x="750" y="1545" width="675" height="35" fill="#b3b3b3" />
<rect x="775" y="725" width="705" height="823" fill="#e6e6e6" />
<rect x="1390" y="725" width="90" height="823" fill="#f4f4f4" />
<rect x="775" y="725" width="705" height="20" fill="#d2d2d4" />
<rect x="880" y="625" width="710" height="55" fill="#a9a9ad" />
<rect x="1325" y="625" width="265" height="55" fill="#c2c2c5" />
<rect x="855" y="603" width="760" height="23" fill="#a0a0a4" />
<polygon points="745,690 760,678 1718,678 1718,725 775,725" fill="#7d5a60" />
<rect x="1410" y="678" width="308" height="47" fill="#8f7075" />
<rect x="1420" y="725" width="280" height="17" fill="#b9b9bc" />
<circle cx="1077" cy="1035" r="185" fill="#4ab1bb" />
<path d="M1080,940 L972,1118 L1192,1118 Z" fill="none" stroke="#eef3f3" stroke-width="40" stroke-linejoin="round"/>
<line x1="995" y1="985" x2="1060" y2="1022" stroke="#4ab1bb" stroke-width="14" />
<line x1="1165" y1="985" x2="1100" y2="1022" stroke="#4ab1bb" stroke-width="14" />
<line x1="1082" y1="1085" x2="1082" y2="1150" stroke="#4ab1bb" stroke-width="14" />
<polygon points="1105,915 1175,935 1125,985" fill="#4ab1bb" />
<polygon points="945,1010 1000,1005 960,1065" fill="#4ab1bb" />
<polygon points="1165,1085 1175,1160 1115,1140" fill="#4ab1bb" />
<rect x="850" y="1357" width="278" height="223" fill="#73706d" />
<rect x="990" y="1357" width="138" height="223" fill="#5f5d5b" />
<rect x="1492" y="730" width="91" height="740" fill="#f3f3f3" />
<rect x="1483" y="655" width="11" height="815" fill="#a9a9ad" />
<rect x="1580" y="655" width="11" height="815" fill="#a9a9ad" />
<rect x="1490" y="700" width="95" height="13" fill="#b1b1b5" />
<rect x="1490" y="756" width="95" height="13" fill="#b1b1b5" />
<rect x="1490" y="812" width="95" height="13" fill="#b1b1b5" />
<rect x="1490" y="868" width="95" height="13" fill="#b1b1b5" />
<rect x="1490" y="924" width="95" height="13" fill="#b1b1b5" />
<rect x="1490" y="980" width="95" height="13" fill="#b1b1b5" />
<rect x="1490" y="1036" width="95" height="13" fill="#b1b1b5" />
<rect x="1490" y="1092" width="95" height="13" fill="#b1b1b5" />
<rect x="1490" y="1148" width="95" height="13" fill="#b1b1b5" />
<rect x="1490" y="1204" width="95" height="13" fill="#b1b1b5" />
<rect x="1490" y="1260" width="95" height="13" fill="#b1b1b5" />
<rect x="1490" y="1316" width="95" height="13" fill="#b1b1b5" />
<rect x="1490" y="1372" width="95" height="13" fill="#b1b1b5" />
<rect x="1490" y="1428" width="95" height="13" fill="#b1b1b5" />
<rect x="455" y="780" width="75" height="838" fill="#a37b75" />
<rect x="495" y="780" width="35" height="838" fill="#96706b" />
<polygon points="470,480 600,545 545,570 750,655 728,700 865,760 865,855 575,770 470,790 370,895 125,975 125,890 290,790 170,775 360,640 310,625" fill="#6db86b" />
<polygon points="470,480 590,545 545,570 640,690 440,740 290,870 125,945 125,890 290,790 170,775 360,640 310,625" fill="#7fc87c" />
<polygon points="475,75 590,248 545,268 785,368 738,388 865,452 865,545 590,470 470,480 350,590 125,660 125,590 290,480 170,470 360,345 320,320 455,170" fill="#6db86b" />
<polygon points="475,75 560,232 500,252 640,385 445,425 300,545 125,610 125,590 290,480 170,470 360,345 320,320 455,170" fill="#7fc87c" />
</g>
<g transform="translate(230,1260) scale(0.278293)">
<rect x="1062" y="325" width="180" height="128" fill="#73706d" />
<rect x="1030" y="230" width="70" height="15" fill="#5f5d5b" />
<rect x="1030" y="280" width="70" height="15" fill="#5f5d5b" />
<path d="M980.25,70 Q1026.05,114.775 1037.5,146.615 Q1039.79,159.55 1037.5,169.5 H923 Q920.71,159.55 923,146.615 Q934.45,114.775 980.25,70 Z" fill="#f26f72" />
<path d="M980.25,70 Q934.45,114.775 923,146.615 Q920.71,159.55 923,169.5 H964.22 Q961.93,119.75 980.25,70 Z" fill="#e0656b" />
<rect x="942.465" y="169.5" width="75.56999999999994" height="17.5" fill="#d65f66" />
<rect x="923" y="186" width="114.5" height="139" fill="#f26f72" />
<rect x="923" y="186" width="40.075000000000045" height="139" fill="#e0656b" />
<path d="M1148.25,70 Q1194.05,114.775 1205.5,146.615 Q1207.79,159.55 1205.5,169.5 H1091 Q1088.71,159.55 1091,146.615 Q1102.45,114.775 1148.25,70 Z" fill="#f26f72" />
<path d="M1148.25,70 Q1102.45,114.775 1091,146.615 Q1088.71,159.55 1091,169.5 H1132.22 Q1129.93,119.75 1148.25,70 Z" fill="#e0656b" />
<rect x="1110.465" y="169.5" width="75.57000000000016" height="17.5" fill="#d65f66" />
<rect x="1091" y="186" width="114.5" height="139" fill="#f26f72" />
<rect x="1091" y="186" width="40.075000000000045" height="139" fill="#e0656b" />
<path d="M1289,640 V452.5 A93.5,93.5 0 0 1 1476,452.5 V645" fill="none" stroke="#e05d62" stroke-width="28" />
<rect x="1322" y="453" width="110" height="337" fill="#eeeeee" />
<rect x="1322" y="790" width="133" height="48" fill="#6b6967" />
<rect x="1322" y="510" width="58" height="55" fill="#4aa3ac" />
<rect x="1322" y="557" width="58" height="8" fill="#3b8790" />
<rect x="1322" y="600" width="58" height="50" fill="#4aa3ac" />
<rect x="1322" y="642" width="58" height="8" fill="#3b8790" />
<rect x="1322" y="688" width="58" height="57" fill="#4aa3ac" />
<rect x="1322" y="737" width="58" height="8" fill="#3b8790" />
<rect x="1432" y="645" width="173" height="193" fill="#c9a89a" />
<rect x="1440" y="710" width="90" height="128" fill="#b59688" />
<rect x="1605" y="275" width="220" height="563" fill="#e8d5c8" />
<rect x="1825" y="275" width="591" height="563" fill="#fdeee0" />
<rect x="1605" y="275" width="811" height="17" fill="#dcc7ba" />
<rect x="1580" y="240" width="275" height="35" fill="#5f5d5b" />
<rect x="1855" y="240" width="584" height="35" fill="#73706d" />
<rect x="1868" y="360" width="224" height="60" fill="#5bb3bb" />
<rect x="1868" y="411" width="224" height="9" fill="#3f8f98" />
<rect x="2141" y="360" width="222" height="60" fill="#5bb3bb" />
<rect x="2141" y="411" width="222" height="9" fill="#3f8f98" />
<rect x="1868" y="457" width="224" height="58" fill="#5bb3bb" />
<rect x="1868" y="506" width="224" height="9" fill="#3f8f98" />
<rect x="2141" y="457" width="222" height="58" fill="#5bb3bb" />
<rect x="2141" y="506" width="222" height="9" fill="#3f8f98" />
<rect x="1868" y="597" width="224" height="60" fill="#5bb3bb" />
<rect x="1868" y="648" width="224" height="9" fill="#3f8f98" />
<rect x="2141" y="597" width="222" height="60" fill="#5bb3bb" />
<rect x="2141" y="648" width="222" height="9" fill="#3f8f98" />
<rect x="1868" y="692" width="224" height="58" fill="#5bb3bb" />
<rect x="1868" y="741" width="224" height="9" fill="#3f8f98" />
<rect x="2141" y="692" width="222" height="58" fill="#5bb3bb" />
<rect x="2141" y="741" width="222" height="9" fill="#3f8f98" />
<rect x="1605" y="815" width="811" height="23" fill="#e9cfc3" />
<rect x="1685" y="737" width="866" height="11" fill="#6f6f74" />
<rect x="1685" y="820" width="866" height="12" fill="#6f6f74" />
<rect x="1680" y="712" width="11" height="126" fill="#6f6f74" />
<line x1="1685.0" y1="748" x2="1756.6666666666667" y2="820" stroke="#6f6f74" stroke-width="7" />
<line x1="1756.6666666666667" y1="748" x2="1685.0" y2="820" stroke="#6f6f74" stroke-width="7" />
<line x1="1756.6666666666667" y1="748" x2="1828.3333333333335" y2="820" stroke="#6f6f74" stroke-width="7" />
<line x1="1828.3333333333335" y1="748" x2="1756.6666666666667" y2="820" stroke="#6f6f74" stroke-width="7" />
<line x1="1828.3333333333333" y1="748" x2="1900.0" y2="820" stroke="#6f6f74" stroke-width="7" />
<line x1="1900.0" y1="748" x2="1828.3333333333333" y2="820" stroke="#6f6f74" stroke-width="7" />
<rect x="1895" y="712" width="11" height="126" fill="#6f6f74" />
<line x1="1900.0" y1="748" x2="1972.6666666666667" y2="820" stroke="#6f6f74" stroke-width="7" />
<line x1="1972.6666666666667" y1="748" x2="1900.0" y2="820" stroke="#6f6f74" stroke-width="7" />
<line x1="1972.6666666666667" y1="748" x2="2045.3333333333335" y2="820" stroke="#6f6f74" stroke-width="7" />
<line x1="2045.3333333333335" y1="748" x2="1972.6666666666667" y2="820" stroke="#6f6f74" stroke-width="7" />
<line x1="2045.3333333333333" y1="748" x2="2118.0" y2="820" stroke="#6f6f74" stroke-width="7" />
<line x1="2118.0" y1="748" x2="2045.3333333333333" y2="820" stroke="#6f6f74" stroke-width="7" />
<rect x="2113" y="712" width="11" height="126" fill="#6f6f74" />
<line x1="2118.0" y1="748" x2="2190.0" y2="820" stroke="#6f6f74" stroke-width="7" />
<line x1="2190.0" y1="748" x2="2118.0" y2="820" stroke="#6f6f74" stroke-width="7" />
<line x1="2190.0" y1="748" x2="2262.0" y2="820" stroke="#6f6f74" stroke-width="7" />
<line x1="2262.0" y1="748" x2="2190.0" y2="820" stroke="#6f6f74" stroke-width="7" />
<line x1="2262.0" y1="748" x2="2334.0" y2="820" stroke="#6f6f74" stroke-width="7" />
<line x1="2334.0" y1="748" x2="2262.0" y2="820" stroke="#6f6f74" stroke-width="7" />
<rect x="2329" y="712" width="11" height="126" fill="#6f6f74" />
<line x1="2334.0" y1="748" x2="2406.3333333333335" y2="820" stroke="#6f6f74" stroke-width="7" />
<line x1="2406.3333333333335" y1="748" x2="2334.0" y2="820" stroke="#6f6f74" stroke-width="7" />
<line x1="2406.3333333333335" y1="748" x2="2478.666666666667" y2="820" stroke="#6f6f74" stroke-width="7" />
<line x1="2478.666666666667" y1="748" x2="2406.3333333333335" y2="820" stroke="#6f6f74" stroke-width="7" />
<line x1="2478.6666666666665" y1="748" x2="2551.0" y2="820" stroke="#6f6f74" stroke-width="7" />
<line x1="2551.0" y1="748" x2="2478.6666666666665" y2="820" stroke="#6f6f74" stroke-width="7" />
<rect x="2546" y="712" width="11" height="126" fill="#6f6f74" />
<polygon points="1400,845 2135,845 2025,990 1300,985" fill="#4aa3b5" />
<polygon points="1406.6335033333335,854.8064983333334 1477.3547522222223,854.8402072222223 1437.906728888889,909.6642188888889 1367.5610933333332,909.4427033333334" fill="#3a7c8c" />
<polygon points="1486.998558888889,854.8448038888889 1557.7198077777778,854.8785127777778 1517.8449511111112,909.9159411111111 1447.4993155555555,909.6944255555555" fill="#3a7c8c" />
<polygon points="1567.3636144444445,854.8831094444445 1638.0848633333335,854.9168183333334 1597.7831733333333,910.1676633333333 1527.4375377777778,909.9461477777778" fill="#3a7c8c" />
<polygon points="1647.7286700000002,854.921415 1718.449918888889,854.9551238888889 1677.7213955555555,910.4193855555556 1607.3757600000001,910.19787" fill="#3a7c8c" />
<polygon points="1728.0937255555557,854.9597205555556 1798.8149744444445,854.9934294444445 1757.6596177777778,910.6711077777778 1687.3139822222222,910.4495922222222" fill="#3a7c8c" />
<polygon points="1808.4587811111112,854.9980261111111 1879.18003,855.031735 1837.59784,910.92283 1767.2522044444445,910.7013144444445" fill="#3a7c8c" />
<polygon points="1888.8238366666667,855.0363316666667 1959.5450855555557,855.0700405555556 1917.5360622222222,911.1745522222222 1847.1904266666666,910.9530366666667" fill="#3a7c8c" />
<polygon points="1969.1888922222222,855.0746372222222 2039.9101411111112,855.1083461111111 1997.4742844444445,911.4262744444445 1927.1286488888888,911.2047588888889" fill="#3a7c8c" />
<polygon points="2049.553947777778,855.1129427777778 2120.2751966666665,855.1466516666667 2077.4125066666666,911.6779966666667 2007.0668711111114,911.4564811111111" fill="#3a7c8c" />
<polygon points="1356.54067,924.852915 1426.7803633333333,925.1274016666666 1387.3323400000002,979.9514133333332 1317.46826,979.4891200000001" fill="#3a7c8c" />
<polygon points="1436.3585033333334,925.1648316666667 1506.5981966666666,925.4393183333333 1466.72334,980.4767466666666 1396.85926,980.0144533333333" fill="#3a7c8c" />
<polygon points="1516.1763366666667,925.4767483333334 1586.41603,925.751235 1546.11434,981.00208 1476.25026,980.5397866666667" fill="#3a7c8c" />
<polygon points="1595.9941700000002,925.788665 1666.2338633333334,926.0631516666666 1625.5053400000002,981.5274133333332 1555.64126,981.06512" fill="#3a7c8c" />
<polygon points="1675.8120033333335,926.1005816666667 1746.0516966666667,926.3750683333334 1704.89634,982.0527466666667 1635.03226,981.5904533333334" fill="#3a7c8c" />
<polygon points="1755.6298366666667,926.4124983333334 1825.86953,926.686985 1784.28734,982.57808 1714.42326,982.1157866666667" fill="#3a7c8c" />
<polygon points="1835.44767,926.724415 1905.6873633333335,926.9989016666667 1863.67834,983.1034133333334 1793.8142599999999,982.64112" fill="#3a7c8c" />
<polygon points="1915.265503333333,927.0363316666667 1985.5051966666667,927.3108183333334 1943.06934,983.6287466666668 1873.20526,983.1664533333333" fill="#3a7c8c" />
<polygon points="1995.0833366666668,927.3482483333333 2065.32303,927.622735 2022.4603399999999,984.15408 1952.5962600000003,983.6917866666666" fill="#3a7c8c" />
<rect x="1428" y="990" width="34" height="70" fill="#f5e6d8" />
<rect x="1450" y="990" width="12" height="70" fill="#e3d0c0" />
<rect x="1662" y="990" width="34" height="70" fill="#f5e6d8" />
<rect x="1684" y="990" width="12" height="70" fill="#e3d0c0" />
<rect x="1895" y="990" width="34" height="70" fill="#f5e6d8" />
<rect x="1917" y="990" width="12" height="70" fill="#e3d0c0" />
</g>
<g transform="translate(230,1260) scale(0.278293)">
<rect x="760" y="905" width="45" height="155" fill="#a77a6e" />
<rect x="785" y="905" width="20" height="155" fill="#96695f" />
<polygon points="785,300 945,985 785,900 622,985" fill="#8bc45c" />
<polygon points="785,300 945,985 862,942 835,720" fill="#7dba55" />
<polygon points="785,300 705,942 622,985" fill="#96cb66" />
<rect x="882" y="325" width="180" height="128" fill="#5f5d5b" />
</g>
<g transform="translate(800,1260) scale(0.324675)">
<clipPath id="wb1"><rect x="100" y="700" width="700" height="210"/></clipPath><g clip-path="url(#wb1)">
<circle cx="520" cy="872" r="72" fill="#7cc67a" />
<circle cx="345" cy="893" r="52" fill="#7cc67a" />
<circle cx="255" cy="908" r="42" fill="#7cc67a" />
<circle cx="440" cy="905" r="48" fill="#7cc67a" />
<circle cx="605" cy="905" r="48" fill="#7cc67a" />
</g>
<clipPath id="wb2"><rect x="1000" y="600" width="900" height="124"/></clipPath><g clip-path="url(#wb2)">
<circle cx="1665" cy="708" r="72" fill="#7cc67a" />
<circle cx="1585" cy="724" r="46" fill="#7cc67a" />
<circle cx="1790" cy="725" r="38" fill="#7cc67a" />
<circle cx="1085" cy="710" r="32" fill="#7cc67a" />
<circle cx="1040" cy="718" r="24" fill="#7cc67a" />
<circle cx="1125" cy="720" r="22" fill="#7cc67a" />
</g>
<rect x="905" y="830" width="315" height="32" fill="#a6dffb" rx="16" />
<rect x="1265" y="830" width="87" height="32" fill="#a6dffb" rx="16" />
</g>
</g>
<g id="farm">
<path d="M1322,1240 C1390,1160 1540,1126 1630,1128 C1760,1131 1900,1150 2035,1173 C2120,1188 2210,1212 2285,1240 Z" fill="#fde5a0" />
<path d="M1320,1235 Q1365,1210 1415,1204 H1712 V1240 H1320 Z" fill="#fdd980" />
<g transform="translate(1690,930) scale(0.296846)">
<path d="M432,300 H465 V725" fill="none" stroke="#9a9395" stroke-width="12" />
<path d="M235,272 Q235,180 333,180 Q432,180 432,272 V725 H235 Z" fill="#e6dfe0" />
<path d="M235,272 Q235,180 333,180 Q300,200 298,272 V725 H235 Z" fill="#d6cccd" />
<rect x="228" y="322" width="210" height="15" fill="#b9aeb0" rx="5" />
<rect x="228" y="408" width="210" height="15" fill="#b9aeb0" rx="5" />
<rect x="228" y="495" width="210" height="15" fill="#b9aeb0" rx="5" />
<rect x="228" y="580" width="210" height="15" fill="#b9aeb0" rx="5" />
<rect x="228" y="665" width="210" height="15" fill="#b9aeb0" rx="5" />
<rect x="487" y="688" width="273" height="322" fill="#e05a50" />
<polygon points="757,690 870,512 978,452 1078,515 1163,650 1163,1010 757,1010" fill="#f2766c" />
<polygon points="445,685 560,500 685,423 985,423 870,492 775,690" fill="#7d6f6f" />
<polygon points="560,500 870,492 866,505 556,512" fill="#6f6263" />
<path d="M762,696 L864,500 L982,436 L1086,507 L1212,684" fill="none" stroke="#6f6263" stroke-width="26" stroke-linejoin="miter"/>
<polygon points="1190,660 1228,684 1200,690" fill="#6f6263" />
<rect x="898" y="590" width="151" height="13" fill="#fff" />
<rect x="905" y="600" width="136" height="100" fill="#fff" />
<rect x="915" y="610" width="116" height="82" fill="#c4b8b8" />
<line x1="915" y1="610" x2="970" y2="692" stroke="#fff" stroke-width="8" />
<line x1="970" y1="610" x2="915" y2="692" stroke="#fff" stroke-width="8" />
<line x1="976" y1="610" x2="1031" y2="692" stroke="#fff" stroke-width="8" />
<line x1="1031" y1="610" x2="976" y2="692" stroke="#fff" stroke-width="8" />
<rect x="968" y="610" width="10" height="82" fill="#fff" />
<rect x="858" y="747" width="60" height="50" fill="#fff" />
<rect x="869" y="760" width="38" height="37" fill="#3a9ca3" />
<rect x="869" y="760" width="38" height="8" fill="#2d7d84" />
<rect x="947" y="747" width="60" height="50" fill="#fff" />
<rect x="958" y="760" width="38" height="37" fill="#3a9ca3" />
<rect x="958" y="760" width="38" height="8" fill="#2d7d84" />
<rect x="1035" y="747" width="60" height="50" fill="#fff" />
<rect x="1046" y="760" width="38" height="37" fill="#3a9ca3" />
<rect x="1046" y="760" width="38" height="8" fill="#2d7d84" />
<rect x="778" y="845" width="115" height="165" fill="#c4b8b8" />
<line x1="782" y1="849" x2="889" y2="1006" stroke="#fff" stroke-width="11" />
<line x1="889" y1="849" x2="782" y2="1006" stroke="#fff" stroke-width="11" />
<rect x="1037" y="845" width="113" height="165" fill="#c4b8b8" />
<line x1="1041" y1="849" x2="1146" y2="1006" stroke="#fff" stroke-width="11" />
<line x1="1146" y1="849" x2="1041" y2="1006" stroke="#fff" stroke-width="11" />
<rect x="893" y="845" width="144" height="165" fill="#b5abac" />
<rect x="905" y="858" width="120" height="152" fill="#7a7577" />
<rect x="757" y="1005" width="423" height="13" fill="#c9bfc0" />
<polygon points="50,868 145,750 252,872 252,1000 50,1000" fill="#e05a50" />
<rect x="250" y="870" width="452" height="130" fill="#f2766c" />
<polygon points="145,727 605,727 718,860 255,866 150,768" fill="#7d6f6f" />
<polygon points="255,858 718,853 718,873 255,877" fill="#6f6263" />
<polygon points="30,866 145,727 162,745 54,878" fill="#7d6f6f" />
<rect x="50" y="995" width="652" height="15" fill="#c9bfc0" />
<rect x="126" y="806" width="53" height="51" fill="#f4c9c4" />
<rect x="131" y="811" width="43" height="41" fill="#3a9ca3" />
<rect x="112" y="885" width="75" height="125" fill="#b5abac" />
<rect x="124" y="897" width="63" height="113" fill="#7a7577" />
<rect x="297" y="914" width="294" height="57" fill="#e8655b" />
<rect x="303" y="920" width="282" height="45" fill="#4a9fa8" />
<rect x="360" y="920" width="4" height="45" fill="#3b8790" />
<rect x="420" y="920" width="4" height="45" fill="#3b8790" />
<rect x="480" y="920" width="4" height="45" fill="#3b8790" />
<rect x="540" y="920" width="4" height="45" fill="#3b8790" />
</g>
<g transform="translate(2030,1020) scale(0.150295)">
<clipPath id="tzb"><rect x="0" y="900" width="1800" height="516"/></clipPath><g clip-path="url(#tzb)">
<circle cx="570" cy="1335" r="145" fill="#b0d265" />
<circle cx="310" cy="1355" r="112" fill="#b0d265" />
<circle cx="830" cy="1365" r="102" fill="#b0d265" />
<circle cx="1115" cy="1292" r="215" fill="#b0d265" />
<circle cx="1400" cy="1362" r="96" fill="#b0d265" />
<circle cx="1160" cy="1405" r="120" fill="#bcdb79" />
<circle cx="950" cy="1425" r="92" fill="#bcdb79" />
</g>
<rect x="117" y="1240" width="16" height="172" fill="#fdf0e8" />
<rect x="393" y="1240" width="16" height="172" fill="#fdf0e8" />
<rect x="673" y="1240" width="16" height="172" fill="#fdf0e8" />
<rect x="117" y="1270" width="572" height="16" fill="#fdf0e8" />
<rect x="117" y="1322" width="572" height="16" fill="#fdf0e8" />
<rect x="117" y="1378" width="572" height="16" fill="#fdf0e8" />
<circle cx="735" cy="360" r="250" fill="#a5c462" />
<circle cx="1040" cy="610" r="218" fill="#a5c462" />
<circle cx="870" cy="800" r="172" fill="#a5c462" />
<ellipse cx="600" cy="700" rx="335" ry="300" fill="#a5c462" />
<circle cx="570" cy="330" r="250" fill="#c6e084" />
<ellipse cx="545" cy="690" rx="325" ry="300" fill="#c6e084" />
<circle cx="690" cy="330" r="250" fill="#b7d870" />
<ellipse cx="565" cy="685" rx="335" ry="300" fill="#b7d870" />
<circle cx="980" cy="590" r="215" fill="#b7d870" />
<path d="M495,470 Q640,340 842,545 Q650,420 495,470 Z" fill="#c6e084" />
</g>
<path d="M1327.5,1232 H2277 Q2287.7,1232 2287.7,1243 V1254 H1327.5 A10.9,10.9 0 0 1 1327.5,1232 Z" fill="#f3bd6a" />
<path d="M1352.5,1252.6 H2287.7 V1257 Q2287.7,1269.6 2275,1269.6 H1352.5 A8.5,8.5 0 0 1 1352.5,1252.6 Z" fill="#8ca83e" />
<g transform="translate(1290,930) scale(0.278293)">
<polygon points="968,650 990,710 946,710" fill="#cfe3a8" />
<polygon points="1036,608 1065,710 1007,710" fill="#cfe3a8" />
<polygon points="1421,640 1445,716 1397,716" fill="#cfe3a8" />
<rect x="712" y="995" width="10" height="90" fill="#fdf0e8" />
<rect x="865" y="995" width="10" height="90" fill="#fdf0e8" />
<rect x="1020" y="995" width="10" height="90" fill="#fdf0e8" />
<rect x="1170" y="995" width="10" height="90" fill="#fdf0e8" />
<rect x="1318" y="995" width="10" height="90" fill="#fdf0e8" />
<rect x="712" y="1010" width="616" height="10" fill="#fdf0e8" />
<rect x="712" y="1040" width="616" height="10" fill="#fdf0e8" />
<rect x="712" y="1068" width="616" height="10" fill="#fdf0e8" />
<polygon points="1243,312 1272,300 1145,1085 1110,1085" fill="#8f8f8f" />
<polygon points="1265,300 1292,312 1420,1085 1385,1085" fill="#a6a6a6" />
<polygon points="1219.5806451612902,565 1313.774193548387,565 1318.3032258064516,592 1214.8774193548388,592" fill="#8f8f8f" />
<polygon points="1193.4516129032259,715 1338.9354838709678,715 1343.4645161290323,742 1188.7483870967742,742" fill="#8f8f8f" />
<polygon points="1166.4516129032259,870 1364.9354838709678,870 1369.4645161290323,897 1161.7483870967742,897" fill="#8f8f8f" />
<rect x="1100" y="1078" width="60" height="12" fill="#8f8f8f" />
<rect x="1375" y="1078" width="57" height="12" fill="#a6a6a6" />
<rect x="1035" y="1075" width="85" height="13" fill="#a9a9a0" />
<g transform="rotate(22.5 1265 270)"><polygon points="1256,218 1274,218 1307,65 1223,75" fill="#dedee1" /><polygon points="1265,218 1274,218 1307,65 1270,69" fill="#eeeef0" /></g>
<g transform="rotate(67.5 1265 270)"><polygon points="1256,218 1274,218 1307,65 1223,75" fill="#dedee1" /><polygon points="1265,218 1274,218 1307,65 1270,69" fill="#eeeef0" /></g>
<g transform="rotate(112.5 1265 270)"><polygon points="1256,218 1274,218 1307,65 1223,75" fill="#dedee1" /><polygon points="1265,218 1274,218 1307,65 1270,69" fill="#eeeef0" /></g>
<g transform="rotate(157.5 1265 270)"><polygon points="1256,218 1274,218 1307,65 1223,75" fill="#dedee1" /><polygon points="1265,218 1274,218 1307,65 1270,69" fill="#eeeef0" /></g>
<g transform="rotate(202.5 1265 270)"><polygon points="1256,218 1274,218 1307,65 1223,75" fill="#dedee1" /><polygon points="1265,218 1274,218 1307,65 1270,69" fill="#eeeef0" /></g>
<g transform="rotate(247.5 1265 270)"><polygon points="1256,218 1274,218 1307,65 1223,75" fill="#dedee1" /><polygon points="1265,218 1274,218 1307,65 1270,69" fill="#eeeef0" /></g>
<g transform="rotate(292.5 1265 270)"><polygon points="1256,218 1274,218 1307,65 1223,75" fill="#dedee1" /><polygon points="1265,218 1274,218 1307,65 1270,69" fill="#eeeef0" /></g>
<g transform="rotate(337.5 1265 270)"><polygon points="1256,218 1274,218 1307,65 1223,75" fill="#dedee1" /><polygon points="1265,218 1274,218 1307,65 1270,69" fill="#eeeef0" /></g>
<g transform="rotate(0 1265 270)"><rect x="1261" y="222" width="8" height="48" fill="#8f8f8f" /></g>
<g transform="rotate(45 1265 270)"><rect x="1261" y="222" width="8" height="48" fill="#8f8f8f" /></g>
<g transform="rotate(90 1265 270)"><rect x="1261" y="222" width="8" height="48" fill="#8f8f8f" /></g>
<g transform="rotate(135 1265 270)"><rect x="1261" y="222" width="8" height="48" fill="#8f8f8f" /></g>
<g transform="rotate(180 1265 270)"><rect x="1261" y="222" width="8" height="48" fill="#8f8f8f" /></g>
<g transform="rotate(225 1265 270)"><rect x="1261" y="222" width="8" height="48" fill="#8f8f8f" /></g>
<g transform="rotate(270 1265 270)"><rect x="1261" y="222" width="8" height="48" fill="#8f8f8f" /></g>
<g transform="rotate(315 1265 270)"><rect x="1261" y="222" width="8" height="48" fill="#8f8f8f" /></g>
<circle cx="1265" cy="270" r="30" fill="#8f8f8f" />
<circle cx="1265" cy="270" r="17" fill="#fff" />
<clipPath id="fb1"><rect x="380" y="1050" width="400" height="112"/></clipPath><g clip-path="url(#fb1)">
<circle cx="560" cy="1142" r="52" fill="#8ca83e" />
<circle cx="690" cy="1155" r="38" fill="#8ca83e" />
<circle cx="440" cy="1160" r="26" fill="#8ca83e" />
<circle cx="625" cy="1158" r="40" fill="#8ca83e" />
<circle cx="500" cy="1160" r="34" fill="#8ca83e" />
</g>
<line x1="978.2" y1="1139.25" x2="976.3" y2="1153.5" stroke="#f08a5a" stroke-width="2.8499999999999996" />
<line x1="989.6" y1="1139.25" x2="989.6" y2="1153.5" stroke="#f08a5a" stroke-width="2.8499999999999996" />
<ellipse cx="982" cy="1125" rx="34.199999999999996" ry="19.0" fill="#fff" />
<polygon points="1001.0,1113.6 1027.6,1107.9 1010.5,1132.6" fill="#fff" />
<path d="M959.2,1120.25 Q953.5,1087.0 955.4,1066.1" fill="none" stroke="#fff" stroke-width="10.45" stroke-linecap="round"/>
<circle cx="954.45" cy="1064.2" r="7.6" fill="#fff" />
<polygon points="947.8,1062.3 934.5,1068.0 947.8,1069.9" fill="#f08a5a" />
<ellipse cx="987.7" cy="1128.8" rx="20.9" ry="9.5" fill="#e6edf5" />
<line x1="1486.6" y1="1128.25" x2="1483.9" y2="1148.5" stroke="#f08a5a" stroke-width="4.050000000000001" />
<line x1="1502.8" y1="1128.25" x2="1502.8" y2="1148.5" stroke="#f08a5a" stroke-width="4.050000000000001" />
<ellipse cx="1492" cy="1108" rx="48.6" ry="27.0" fill="#fff" />
<polygon points="1519.0,1091.8 1556.8,1083.7 1532.5,1118.8" fill="#fff" />
<path d="M1459.6,1101.25 Q1451.5,1054.0 1454.2,1024.3" fill="none" stroke="#fff" stroke-width="14.850000000000001" stroke-linecap="round"/>
<circle cx="1452.85" cy="1021.6" r="10.8" fill="#fff" />
<polygon points="1443.4,1018.9 1424.5,1027.0 1443.4,1029.7" fill="#f08a5a" />
<ellipse cx="1500.1" cy="1113.4" rx="29.700000000000003" ry="13.5" fill="#e6edf5" />
<line x1="1633.2" y1="1139.25" x2="1631.3" y2="1153.5" stroke="#f08a5a" stroke-width="2.8499999999999996" />
<line x1="1644.6" y1="1139.25" x2="1644.6" y2="1153.5" stroke="#f08a5a" stroke-width="2.8499999999999996" />
<ellipse cx="1637" cy="1125" rx="34.199999999999996" ry="19.0" fill="#fff" />
<polygon points="1656.0,1113.6 1682.6,1107.9 1665.5,1132.6" fill="#fff" />
<path d="M1614.2,1120.25 Q1608.5,1087.0 1610.4,1066.1" fill="none" stroke="#fff" stroke-width="10.45" stroke-linecap="round"/>
<circle cx="1609.45" cy="1064.2" r="7.6" fill="#fff" />
<polygon points="1602.8,1062.3 1589.5,1068.0 1602.8,1069.9" fill="#f08a5a" />
<ellipse cx="1642.7" cy="1128.8" rx="20.9" ry="9.5" fill="#e6edf5" />
<line x1="1795" y1="1160" x2="1785" y2="1125" stroke="#8ca83e" stroke-width="6" stroke-linecap="round"/>
<line x1="1795" y1="1160" x2="1795" y2="1112" stroke="#8ca83e" stroke-width="6" stroke-linecap="round"/>
<line x1="1795" y1="1160" x2="1805" y2="1125" stroke="#8ca83e" stroke-width="6" stroke-linecap="round"/>
</g>
<g transform="translate(1690,930) scale(0.296846)">
<rect x="600" y="912" width="192" height="176" fill="#f3b55c" rx="82" />
<circle cx="647" cy="1000" r="89" fill="#fbd088" />
<path d="M652,990 a13,13 0 1 1 -10,22 a30,30 0 0 1 42,-42 a50,50 0 0 1 22,72 a62,62 0 0 1 -80,14" fill="none" stroke="#f3b55c" stroke-width="8" stroke-linecap="round"/>
<clipPath id="fb3"><rect x="780" y="980" width="320" height="107"/></clipPath><g clip-path="url(#fb3)">
<circle cx="940" cy="1064" r="48" fill="#8ca83e" />
<circle cx="850" cy="1080" r="30" fill="#8ca83e" />
<circle cx="1022" cy="1078" r="34" fill="#8ca83e" />
<circle cx="985" cy="1075" r="36" fill="#8ca83e" />
</g>
<line x1="335" y1="1085" x2="323" y2="1055" stroke="#8ca83e" stroke-width="6" stroke-linecap="round"/>
<line x1="335" y1="1085" x2="335" y2="1035" stroke="#8ca83e" stroke-width="6" stroke-linecap="round"/>
<line x1="335" y1="1085" x2="347" y2="1051" stroke="#8ca83e" stroke-width="6" stroke-linecap="round"/>
</g>
<g transform="translate(2030,1020) scale(0.150295)">
<polygon points="760,1040 832,1028 786,1108" fill="#fff" />
<path d="M715,1545 L722,1210 L585,972 L600,962 L735,1150 L742,900 L778,900 L785,1100 L895,898 L908,905 L800,1170 L800,1545 Z" fill="#9f736d" />
<path d="M715,1545 L722,1210 L585,972 L600,962 L735,1150 L742,900 L760,900 L760,1545 Z" fill="#b08a84" />
<rect x="1030" y="1440" width="10" height="107" fill="#5f9436" />
<path d="M1035,1520 q-38,-8 -48,-52 q40,8 48,52 Z" fill="#5f9436" />
<path d="M1035,1490 q38,-8 48,-52 q-40,8 -48,52 Z" fill="#5f9436" />
<path d="M995,1362 l20,22 l20,-28 l20,28 l20,-22 q10,70 -40,88 q-50,-18 -40,-88 Z" fill="#f05e55" />
<rect x="1135" y="1440" width="10" height="107" fill="#5f9436" />
<path d="M1140,1520 q-38,-8 -48,-52 q40,8 48,52 Z" fill="#5f9436" />
<path d="M1140,1490 q38,-8 48,-52 q-40,8 -48,52 Z" fill="#5f9436" />
<path d="M1100,1362 l20,22 l20,-28 l20,28 l20,-22 q10,70 -40,88 q-50,-18 -40,-88 Z" fill="#f05e55" />
<rect x="1240" y="1440" width="10" height="107" fill="#5f9436" />
<path d="M1245,1520 q-38,-8 -48,-52 q40,8 48,52 Z" fill="#5f9436" />
<path d="M1245,1490 q38,-8 48,-52 q-40,8 -48,52 Z" fill="#5f9436" />
<path d="M1205,1362 l20,22 l20,-28 l20,28 l20,-22 q10,70 -40,88 q-50,-18 -40,-88 Z" fill="#f05e55" />
<rect x="1381" y="1395" width="8" height="152" fill="#5f9436" />
<path d="M1385,1378 q16,20 0,42 q-16,-22 0,-42 Z" fill="#5f9436" />
<path d="M1385,1440 q-40,-6 -46,-44 q38,6 46,44 Z" fill="#5f9436" />
<path d="M1385,1440 q40,-6 46,-44 q-38,6 -46,44 Z" fill="#5f9436" />
<path d="M1385,1485 q-40,-6 -46,-44 q38,6 46,44 Z" fill="#5f9436" />
<path d="M1385,1485 q40,-6 46,-44 q-38,6 -46,44 Z" fill="#5f9436" />
<path d="M1385,1530 q-40,-6 -46,-44 q38,6 46,44 Z" fill="#5f9436" />
<path d="M1385,1530 q40,-6 46,-44 q-38,6 -46,44 Z" fill="#5f9436" />
<rect x="1496" y="1395" width="8" height="152" fill="#5f9436" />
<path d="M1500,1378 q16,20 0,42 q-16,-22 0,-42 Z" fill="#5f9436" />
<path d="M1500,1440 q-40,-6 -46,-44 q38,6 46,44 Z" fill="#5f9436" />
<path d="M1500,1440 q40,-6 46,-44 q-38,6 -46,44 Z" fill="#5f9436" />
<path d="M1500,1485 q-40,-6 -46,-44 q38,6 46,44 Z" fill="#5f9436" />
<path d="M1500,1485 q40,-6 46,-44 q-38,6 -46,44 Z" fill="#5f9436" />
<path d="M1500,1530 q-40,-6 -46,-44 q38,6 46,44 Z" fill="#5f9436" />
<path d="M1500,1530 q40,-6 46,-44 q-38,6 -46,44 Z" fill="#5f9436" />
<path d="M452,1547 Q448.6,1505.0 422,1477 Q449.0,1512.0 470,1547 Z" fill="#8ca83e" />
<path d="M452,1547 Q460.0,1481.0 460,1437 Q468.0,1492.0 470,1547 Z" fill="#8ca83e" />
<path d="M452,1547 Q470.8,1511.0 496,1487 Q486.0,1517.0 470,1547 Z" fill="#8ca83e" />
</g>
</g>
<g id="house">
<g transform="translate(1620,1400) scale(0.185529)">
<rect x="160" y="1130" width="560" height="190" fill="#c5d466" rx="90" />
</g>
<g transform="translate(2040,1510) scale(0.143785)">
<rect x="-40" y="695" width="2125" height="240" fill="#c5d466" rx="119" />
<clipPath id="hbc"><rect x="0" y="200" width="1900" height="732.5"/></clipPath>
<clipPath id="hsil"><circle cx="345" cy="722" r="236"/><circle cx="865" cy="592" r="327"/><circle cx="1320" cy="724" r="246"/><rect x="140" y="760" width="1400" height="180"/></clipPath>
<g clip-path="url(#hbc)">
<g clip-path="url(#hsil)">
<rect x="0" y="200" width="1800" height="740" fill="#9aab4c" />
<path d="M100,940 L105,815 Q200,862 300,886 Q380,882 430,846 Q500,800 555,716 Q640,800 700,850 Q760,802 830,798 Q900,782 960,800 Q1040,830 1100,836 Q1180,830 1230,808 Q1300,790 1360,780 Q1410,742 1450,712 L1490,732 Q1440,790 1425,850 L1425,940 Z" fill="#85963f" />
</g>
<circle cx="1582" cy="852" r="162" fill="#9aab4c" />
<path d="M1548,940 Q1570,890 1640,866 Q1692,850 1702,775 Q1750,800 1750,870 L1750,940 Z" fill="#85963f" />
<circle cx="400" cy="590" r="11" fill="#7f8f3a" />
<circle cx="470" cy="590" r="11" fill="#7f8f3a" />
<circle cx="440" cy="675" r="11" fill="#7f8f3a" />
<circle cx="205" cy="805" r="11" fill="#7f8f3a" />
<circle cx="1285" cy="640" r="11" fill="#7f8f3a" />
<circle cx="1335" cy="712" r="11" fill="#7f8f3a" />
<circle cx="1240" cy="750" r="11" fill="#7f8f3a" />
<circle cx="1545" cy="855" r="11" fill="#7f8f3a" />
</g>
</g>
<g transform="translate(1620,1400) scale(0.185529)">
<rect x="1380" y="432" width="962" height="380" fill="#8f5048" />
<polygon points="1380,432 1700,432 2000,812 1380,812" fill="#7b3f3a" />
<rect x="1465" y="432" width="5" height="380" fill="#6f3834" rx="opacity="0.55"" />
<rect x="1547" y="432" width="5" height="380" fill="#6f3834" rx="opacity="0.55"" />
<rect x="1629" y="432" width="5" height="380" fill="#6f3834" rx="opacity="0.55"" />
<rect x="1711" y="432" width="5" height="380" fill="#6f3834" rx="opacity="0.55"" />
<rect x="1793" y="432" width="5" height="380" fill="#6f3834" rx="opacity="0.55"" />
<rect x="1875" y="432" width="5" height="380" fill="#6f3834" rx="opacity="0.55"" />
<rect x="1957" y="432" width="5" height="380" fill="#6f3834" rx="opacity="0.55"" />
<rect x="2039" y="432" width="5" height="380" fill="#6f3834" rx="opacity="0.55"" />
<rect x="2121" y="432" width="5" height="380" fill="#6f3834" rx="opacity="0.55"" />
<rect x="2203" y="432" width="5" height="380" fill="#6f3834" rx="opacity="0.55"" />
<rect x="2285" y="432" width="5" height="380" fill="#6f3834" rx="opacity="0.55"" />
<rect x="1555" y="222" width="77" height="36" fill="#fce5a7" />
<rect x="1543" y="255" width="102" height="27" fill="#ecc377" />
<rect x="1555" y="282" width="77" height="103" fill="#fce5a7" />
<rect x="1543" y="380" width="100" height="112" fill="#ecc377" />
<rect x="1632" y="815" width="710" height="41" fill="#b8b8b8" />
<rect x="1632" y="855" width="633" height="460" fill="#c9a56a" />
<rect x="1845" y="908" width="420" height="407" fill="#fce5a7" />
<rect x="1732" y="945" width="432" height="92" fill="#b5b5b5" />
<polygon points="1870,980 2164,980 2164,1030 1892,1030" fill="#f2f2f2" />
<rect x="1732" y="1035" width="432" height="280" fill="#2a2f33" />
<rect x="703" y="1152" width="1032" height="163" fill="#857a78" />
<rect x="1255" y="1152" width="63" height="163" fill="#6f6665" />
<rect x="1590" y="1152" width="145" height="163" fill="#554c4a" />
<clipPath id="bsh"><rect x="703" y="1152" width="300" height="163"/></clipPath><g clip-path="url(#bsh)"><circle cx="735" cy="1130" r="130" fill="#6d6466" /></g>
<polygon points="718,700 1172,345 1440,545 1440,1152 718,1152" fill="#c9a56a" />
<polygon points="718,1152 718,752 1200,410 1400,545 1400,1152" fill="#fce5a7" />
<polygon points="1175,752 1272,690 1272,1152" fill="#c9a56a" />
<polygon points="1272,1152 1272,700 1450,568 1632,700 1632,1152" fill="#c9a56a" />
<polygon points="1272,1152 1272,748 1450,618 1632,748 1632,1152" fill="#ecc377" />
<rect x="1580" y="890" width="52" height="262" fill="#fce5a7" />
<path d="M1335,1152 V805 Q1335,730 1455,730 Q1575,730 1575,805 V1152 Z" fill="#c9a56a" />
<rect x="1380" y="815" width="147" height="337" fill="#8b3a42" />
<clipPath id="gl4"><rect x="1410" y="855" width="87" height="223"/></clipPath>
<rect x="1410" y="855" width="87" height="223" fill="#3e5a6b" />
<g clip-path="url(#gl4)"><polygon points="1462.2,855 1475.25,855 1405.6499999999999,1078 1392.6,1078" fill="#7fb1b8" /></g>
<path d="M1168,741 L1445,533" fill="none" stroke="#fff" stroke-width="45" />
<path d="M603,741 L1172,316 L1745,741" fill="none" stroke="#fff" stroke-width="45" stroke-linejoin="miter"/>
<path d="M603,741 L1172,316" fill="none" stroke="#f0f0f0" stroke-width="45" />
<polygon points="1172,288 1172,345 1210,316" fill="#fff" />
<circle cx="1172" cy="527" r="78" fill="#c9a050" />
<circle cx="1172" cy="527" r="64" fill="#3e5a6b" />
<clipPath id="rw"><circle cx="1172" cy="527" r="64"/></clipPath><g clip-path="url(#rw)"><polygon points="1200,455 1225,455 1140,600 1115,600" fill="#7fb1b8" /><polygon points="1245,470 1258,470 1180,600 1167,600" fill="#7fb1b8" /></g>
<rect x="865" y="768" width="112" height="324" fill="#c9a050" />
<clipPath id="gl5"><rect x="878" y="782" width="86" height="56"/></clipPath>
<rect x="878" y="782" width="86" height="56" fill="#3e5a6b" />
<g clip-path="url(#gl5)"><polygon points="929.6,782 942.5,782 873.6999999999999,838 860.8,838" fill="#7fb1b8" /></g>
<clipPath id="gl6"><rect x="878" y="856" width="86" height="224"/></clipPath>
<rect x="878" y="856" width="86" height="224" fill="#3e5a6b" />
<g clip-path="url(#gl6)"><polygon points="929.6,856 942.5,856 873.6999999999999,1080 860.8,1080" fill="#7fb1b8" /><polygon points="972.6,856 985.5,856 916.6999999999999,1080 903.8,1080" fill="#7fb1b8" /></g>
<rect x="1013" y="768" width="112" height="324" fill="#c9a050" />
<clipPath id="gl7"><rect x="1026" y="782" width="86" height="56"/></clipPath>
<rect x="1026" y="782" width="86" height="56" fill="#3e5a6b" />
<g clip-path="url(#gl7)"><polygon points="1077.6000000000001,782 1090.5,782 1021.7,838 1008.8000000000001,838" fill="#7fb1b8" /></g>
<clipPath id="gl8"><rect x="1026" y="856" width="86" height="224"/></clipPath>
<rect x="1026" y="856" width="86" height="224" fill="#3e5a6b" />
<g clip-path="url(#gl8)"><polygon points="1077.6000000000001,856 1090.5,856 1021.7,1080 1008.8000000000001,1080" fill="#7fb1b8" /><polygon points="1120.6000000000001,856 1133.5,856 1064.7,1080 1051.8000000000002,1080" fill="#7fb1b8" /></g>
<rect x="1315" y="1152" width="275" height="163" fill="#a8a8a8" />
<rect x="1315" y="1188" width="275" height="30" fill="#8f8f8f" />
<rect x="1315" y="1248" width="275" height="30" fill="#8f8f8f" />
<rect x="1315" y="1152" width="275" height="10" fill="#c4c4c4" />
<rect x="905" y="1187" width="180" height="91" fill="#c9a050" />
<clipPath id="gl9"><rect x="920" y="1200" width="150" height="66"/></clipPath>
<rect x="920" y="1200" width="150" height="66" fill="#3e5a6b" />
<g clip-path="url(#gl9)"><polygon points="1010.0,1200 1032.5,1200 912.5,1266 890.0,1266" fill="#7fb1b8" /><polygon points="1085.0,1200 1107.5,1200 987.5,1266 965.0,1266" fill="#7fb1b8" /></g>
</g>
<g transform="translate(1620,1400) scale(0.185529)">
<clipPath id="hb10"><circle cx="240" cy="1238" r="80"/></clipPath>
<circle cx="240" cy="1238" r="80" fill="#85963f" />
<g clip-path="url(#hb10)"><ellipse cx="230.4" cy="1215.6" rx="84.0" ry="76.0" fill="#9aab4c" /><circle cx="284.0" cy="1258.0" r="33.6" fill="#9aab4c" /></g>
<clipPath id="hb11"><circle cx="430" cy="1215" r="110"/></clipPath>
<circle cx="430" cy="1215" r="110" fill="#85963f" />
<g clip-path="url(#hb11)"><ellipse cx="416.8" cy="1184.2" rx="115.5" ry="104.5" fill="#9aab4c" /><circle cx="490.5" cy="1242.5" r="46.199999999999996" fill="#9aab4c" /></g>
<circle cx="440" cy="1160" r="4.95" fill="#7f8f3a" />
<circle cx="475" cy="1193" r="4.95" fill="#7f8f3a" />
<circle cx="442" cy="1223" r="4.95" fill="#7f8f3a" />
<clipPath id="hb12"><circle cx="680" cy="1058" r="160"/></clipPath>
<circle cx="680" cy="1058" r="160" fill="#85963f" />
<g clip-path="url(#hb12)"><ellipse cx="660.8" cy="1013.2" rx="168.0" ry="152.0" fill="#9aab4c" /><circle cx="768.0" cy="1098.0" r="67.2" fill="#9aab4c" /></g>
<circle cx="615" cy="968" r="7.199999999999999" fill="#7f8f3a" />
<circle cx="710" cy="996" r="7.199999999999999" fill="#7f8f3a" />
<circle cx="752" cy="1046" r="7.199999999999999" fill="#7f8f3a" />
<circle cx="708" cy="1076" r="7.199999999999999" fill="#7f8f3a" />
</g>
<rect x="1627.8" y="1644" width="689.2" height="33.799999999999955" fill="#76827f" rx="16.9" />
<g transform="translate(1960,1400) scale(0.185529)">
<ellipse cx="340" cy="1453.5" rx="320" ry="17.5" fill="#b9b9b2" />
<rect x="33" y="1350" width="67.5" height="98.59999999999991" fill="#2a2a2a" rx="14" />
<rect x="432" y="1350" width="69.80000000000001" height="98.59999999999991" fill="#262626" rx="14" />
<rect x="-12" y="1159.4" width="68" height="47.399999999999864" fill="#eea04a" rx="12" />
<rect x="479" y="1159.4" width="65.5" height="45.09999999999991" fill="#e07a28" rx="12" />
<clipPath id="carb"><path d="M100.4,1084.6 Q265,1074 434.5,1084.6 L469.4,1199.3 Q494.3,1224 496.8,1264 V1384 Q494.3,1403.7 474.4,1403.7 H60.5 Q40.6,1403.7 38.1,1384 V1264 Q40.6,1224 70.5,1199.3 Z"/></clipPath>
<path d="M100.4,1084.6 Q265,1074 434.5,1084.6 L469.4,1199.3 Q494.3,1224 496.8,1264 V1384 Q494.3,1403.7 474.4,1403.7 H60.5 Q40.6,1403.7 38.1,1384 V1264 Q40.6,1224 70.5,1199.3 Z" fill="#eea04a" />
<g clip-path="url(#carb)">
<polygon points="360,1060 560,1060 560,1420 163,1420" fill="#e07a28" />
<rect x="0" y="1380" width="560" height="40" fill="#c96a20" />
<polygon points="38,1262 70,1240 150,1262 150,1275 38,1275" fill="#e07a28" opacity="0.5"/>
</g>
<clipPath id="carw"><path d="M110.4,1102 H424.5 L454.4,1194.3 H78 Z"/></clipPath>
<path d="M110.4,1102 H424.5 L454.4,1194.3 H78 Z" fill="#b8deec" />
<g clip-path="url(#carw)">
<polygon points="358,1095 470,1095 470,1200 295,1200" fill="#6e93a6" />
<rect x="230" y="1106" width="70" height="14" fill="#6a8fa0" rx="6" />
<polygon points="280,1106 300,1106 250,1194 228,1194" fill="#1f3a50" />
<rect x="135" y="1149.4" width="82.6" height="25.59999999999991" fill="#1f3a50" rx="8" />
<rect x="319.8" y="1149.4" width="79.80000000000001" height="25.59999999999991" fill="#1f3a50" rx="8" />
<rect x="70" y="1172" width="390" height="24" fill="#1f3a50" />
</g>
<polygon points="53,1261.6 132.8,1281.6 135.3,1314 58,1306.5" fill="#fff" />
<polygon points="482,1261.6 402,1281.6 399.6,1314 477,1306.5" fill="#c4e5ea" />
<rect x="155.3" y="1271.6" width="221.8" height="44.90000000000009" fill="#2f2f2f" rx="6" />
<rect x="152.8" y="1346.4" width="224.3" height="24.899999999999864" fill="#2f2f2f" rx="6" />
<polygon points="300,1271.6 340,1271.6 312,1316.5 272,1316.5" fill="#4a4a4a" />
<polygon points="268,1346.4 300,1346.4 286,1371.3 254,1371.3" fill="#4a4a4a" />
<rect x="53" y="1346.4" width="62.400000000000006" height="24.899999999999864" fill="#fff" rx="5" />
<rect x="419.5" y="1346.4" width="59.80000000000001" height="24.899999999999864" fill="#c4e5ea" rx="5" />
</g>
<g transform="translate(1960,1400) scale(0.185529)">
<polygon points="838,848 948,788 962,815 852,862" fill="#1f4e6b" />
<polygon points="880,800 950,775 958,795 890,815" fill="#1f4e6b" />
<ellipse cx="832" cy="858" rx="14" ry="9" fill="#e88a2e" />
<ellipse cx="848" cy="775" rx="16" ry="8" fill="#e88a2e" transform="rotate(-15 848 775)"/>
<ellipse cx="985" cy="760" rx="52" ry="30" fill="#e88a2e" transform="rotate(-32 985 760)"/>
<polygon points="940,715 1000,705 1010,725 950,740" fill="#e88a2e" />
<circle cx="1036" cy="692" r="23" fill="#f3c6a5" />
<path d="M1010,690 Q1005,655 1040,658 Q1075,660 1068,692 Q1050,672 1010,690 Z" fill="#1c3a55" />
<polygon points="1005,1062 1062,1075 1042,1250 1095,1440 1058,1450 975,1215" fill="#1f4e6b" />
<polygon points="1050,1075 1100,1082 1078,1250 1138,1335 1114,1364 1030,1268" fill="#1f4e6b" />
<ellipse cx="1046" cy="1456" rx="46" ry="11" fill="#f3c6a5" />
<polygon points="1122,1345 1142,1338 1152,1400 1140,1422 1126,1400" fill="#f3c6a5" />
<polygon points="1032,885 1078,842 1150,852 1162,905 1112,1088 1035,1072 1052,955" fill="#f8b5a5" />
<polygon points="1040,870 1012,792 1036,784 1080,850" fill="#f8b5a5" />
<circle cx="1020" cy="775" r="15" fill="#f3c6a5" />
<polygon points="1115,845 1150,850 1145,880 1118,872" fill="#f3c6a5" />
<circle cx="1140" cy="808" r="30" fill="#f3c6a5" />
<path d="M1130,790 Q1135,745 1175,752 Q1205,765 1195,810 Q1185,850 1160,850 Q1172,815 1130,790 Z" fill="#1c3a55" />
<polygon points="1175,1085 1278,1075 1248,1425 1214,1425" fill="#9b3a8c" />
<polygon points="1205,1420 1225,1420 1215,1450 1195,1445" fill="#8a2a6a" />
<polygon points="1232,1420 1250,1420 1248,1470 1230,1455" fill="#8a2a6a" />
<polygon points="1180,875 1218,850 1282,1000 1282,1082 1178,1092 1175,955" fill="#5fbcd0" />
<circle cx="1236" cy="812" r="28" fill="#f3c6a5" />
<path d="M1215,800 Q1220,760 1255,768 Q1290,780 1280,850 Q1275,890 1255,900 Q1268,830 1215,800 Z" fill="#b0408f" />
<polygon points="1230,885 1295,870 1318,935 1290,975 1238,965" fill="#f0608a" />
<circle cx="1284" cy="832" r="24" fill="#f3c6a5" />
<path d="M1272,810 Q1290,780 1322,800 Q1340,830 1312,862 Q1310,825 1272,810 Z" fill="#1c3a55" />
<polygon points="1182,958 1228,950 1215,1035 1195,1035" fill="#1f4e6b" />
<polygon points="1285,970 1310,960 1312,1035 1295,1040" fill="#1f4e6b" />
<ellipse cx="1210" cy="1048" rx="12" ry="16" fill="#e88a2e" />
<ellipse cx="1306" cy="1048" rx="9" ry="14" fill="#e88a2e" />
<polygon points="1215,930 1290,945 1295,975 1218,960" fill="#f3c6a5" />
</g>
</g>
<g id="arrows">
<rect x="143.8" y="574.0" width="7.1" height="1239.0" fill="#fff"/>
<polygon points="124.5,1796.4 147.3,1809.2 170.1,1796.4 170.1,1807.1 147.3,1821.4 124.5,1807.1" fill="#fff"/>
<rect x="346.1" y="592.0" width="7.1" height="755.0" fill="#fff"/>
<polygon points="326.8,1330.0 349.6,1342.8 372.4,1330.0 372.4,1340.7 349.6,1355.0 326.8,1340.7" fill="#fff"/>
<rect x="814.5" y="977.3" width="7.1" height="309.7" fill="#fff"/>
<polygon points="795.2,1269.6 818.0,1282.4 840.8,1269.6 840.8,1280.3 818.0,1294.6 795.2,1280.3" fill="#fff"/>
<rect x="1107.7" y="983.0" width="7.1" height="310.0" fill="#fff"/>
<polygon points="1088.4,999.9 1111.2,987.1 1134.0,999.9 1134.0,989.2 1111.2,974.9 1088.4,989.2" fill="#fff"/>
<rect x="1210.3" y="426.6" width="464.7" height="7.1" fill="#fff"/>
<polygon points="1657.7,407.4 1670.5,430.2 1657.7,453.0 1668.4,453.0 1682.7,430.2 1668.4,407.4" fill="#fff"/>
<rect x="1210.3" y="459.2" width="285.7" height="7.1" fill="#fff"/>
<rect x="1488.8" y="459.1" width="7.1" height="329.4" fill="#fff"/>
<rect x="1488.6" y="781.4" width="829.1" height="7.1" fill="#fff"/>
<rect x="2310.4" y="781.2" width="7.1" height="663.8" fill="#fff"/>
<polygon points="2291.2,1427.4 2314.0,1440.2 2336.8,1427.4 2336.8,1438.1 2314.0,1452.4 2291.2,1438.1" fill="#fff"/>
<rect x="738.1" y="1591.6" width="7.1" height="206.4" fill="#fff"/>
<polygon points="718.8,1780.4 741.6,1793.2 764.4,1780.4 764.4,1791.1 741.6,1805.4 718.8,1791.1" fill="#fff"/>
<rect x="1555.5" y="1290.0" width="7.1" height="110.0" fill="#fff"/>
<polygon points="1536.2,1307.4 1559.0,1294.6 1581.8,1307.4 1581.8,1296.7 1559.0,1282.4 1536.2,1296.7" fill="#fff"/>
<rect x="1543.2" y="1440.0" width="7.1" height="547.0" fill="#fff"/>
<rect x="1569.9" y="1440.0" width="7.1" height="370.0" fill="#fff"/>
<rect x="1782.2" y="1293.0" width="7.1" height="168.0" fill="#fff"/>
<polygon points="1763.0,1443.7 1785.8,1456.5 1808.6,1443.7 1808.6,1454.4 1785.8,1468.7 1763.0,1454.4" fill="#fff"/>
<rect x="2077.8" y="1699.0" width="7.1" height="292.7" fill="#fff"/>
<polygon points="2058.6,1716.2 2081.4,1703.4 2104.2,1716.2 2104.2,1705.5 2081.4,1691.2 2058.6,1705.5" fill="#fff"/>
<rect x="2368.6" y="652.0" width="7.1" height="1328.0" fill="#fff"/>
<polygon points="2349.4,1962.9 2372.2,1975.7 2395.0,1962.9 2395.0,1973.6 2372.2,1987.9 2349.4,1973.6" fill="#fff"/>
<rect x="2401.8" y="652.0" width="7.1" height="1158.0" fill="#fff"/>
<polygon points="2382.5,1793.2 2405.3,1806.0 2428.1,1793.2 2428.1,1803.9 2405.3,1818.2 2382.5,1803.9" fill="#fff"/>
</g>
<g id="labels">
<text font-weight="bold" x="845.5" y="162.6" font-size="132.5" fill="#003366" stroke="#003366" stroke-width="3" textLength="371" lengthAdjust="spacingAndGlyphs">PFAS</text>
<text font-weight="bold" x="1257.5" y="162.6" font-size="132.5" fill="#003366" stroke="#003366" stroke-width="3" textLength="458" lengthAdjust="spacingAndGlyphs">CYCLE</text>
<rect x="800" y="345.6" width="362.7" height="144.7" fill="#003366"/>
<text x="933.8" y="386.5" font-size="33.2" fill="#fff" stroke="#fff" stroke-width="1.25" textLength="90.4" lengthAdjust="spacingAndGlyphs">PFAS</text>
<text x="832.2" y="426.9" font-size="33.2" fill="#fff" stroke="#fff" stroke-width="1.25" textLength="293.6" lengthAdjust="spacingAndGlyphs">Producing/Using</text>
<text x="892" y="468" font-size="33.2" fill="#fff" stroke="#fff" stroke-width="1.25" textLength="173.0" lengthAdjust="spacingAndGlyphs">Industries</text>
<rect x="2081.7" y="359.7" width="370.3" height="112.0" fill="#003366"/>
<text x="2110" y="405.4" font-size="33.2" fill="#fff" stroke="#fff" stroke-width="1.25" textLength="317.7" lengthAdjust="spacingAndGlyphs">Airports using fire</text>
<text x="2148.5" y="446.2" font-size="33.2" fill="#fff" stroke="#fff" stroke-width="1.25" textLength="240.5" lengthAdjust="spacingAndGlyphs">fighting foam</text>
<rect x="1182.5" y="708.3" width="180.5" height="70.8" fill="#003366"/>
<text x="1207.7" y="756.3" font-size="33.2" fill="#fff" stroke="#fff" stroke-width="1.25" textLength="130.3" lengthAdjust="spacingAndGlyphs">Landfill</text>
<rect x="1299.7" y="1127.6" width="305.3" height="78.4" fill="#003366"/>
<text x="1330" y="1177" font-size="33.2" fill="#fff" stroke="#fff" stroke-width="1.25" textLength="243.0" lengthAdjust="spacingAndGlyphs">Soil/Farmland</text>
<rect x="243.4" y="1386" width="354.6" height="107.0" fill="#003366"/>
<text x="313.5" y="1430.3" font-size="33.2" fill="#fff" stroke="#fff" stroke-width="1.25" textLength="207.3" lengthAdjust="spacingAndGlyphs">Wastewater</text>
<text x="264.8" y="1471.5" font-size="33.2" fill="#fff" stroke="#fff" stroke-width="1.25" textLength="304.2" lengthAdjust="spacingAndGlyphs">Treatment Plants</text>
<rect x="1935" y="1422" width="349.0" height="78.0" fill="#003366"/>
<text x="1961.9" y="1471.4" font-size="33.2" fill="#fff" stroke="#fff" stroke-width="1.25" textLength="298.1" lengthAdjust="spacingAndGlyphs">Human Exposure</text>
<rect x="29.3" y="901.7" width="237.3" height="198.5" rx="37" ry="37" fill="#fff"/>
<text x="45.5" y="952.7" font-size="32.6" fill="#111" stroke="#111" stroke-width="1.1" textLength="207.2" lengthAdjust="spacingAndGlyphs">Wastewater</text>
<text x="99.3" y="993.2" font-size="32.6" fill="#111" stroke="#111" stroke-width="1.1" textLength="100.1" lengthAdjust="spacingAndGlyphs">direct</text>
<text x="64" y="1034" font-size="32.6" fill="#111" stroke="#111" stroke-width="1.1" textLength="170.0" lengthAdjust="spacingAndGlyphs">discharge</text>
<text x="65.9" y="1075.2" font-size="32.6" fill="#111" stroke="#111" stroke-width="1.1" textLength="166.1" lengthAdjust="spacingAndGlyphs">to stream</text>
<rect x="715" y="1087.6" width="205.0" height="49.7" rx="24.850000000000023" ry="24.850000000000023" fill="#fff"/>
<text x="739" y="1122.5" font-size="32.6" fill="#111" stroke="#111" stroke-width="1.1" textLength="157.0" lengthAdjust="spacingAndGlyphs">Leachate</text>
<rect x="1008.9" y="1085.8" width="205.3" height="50.2" rx="25.100000000000023" ry="25.100000000000023" fill="#fff"/>
<text x="1033.9" y="1121.2" font-size="32.6" fill="#111" stroke="#111" stroke-width="1.1" textLength="155.3" lengthAdjust="spacingAndGlyphs">Biosolids</text>
<rect x="1674.4" y="729.4" width="464.9" height="109.6" rx="54.80000000000001" ry="54.80000000000001" fill="#fff"/>
<text x="1714" y="774.2" font-size="32.6" fill="#111" stroke="#111" stroke-width="1.1" textLength="382.0" lengthAdjust="spacingAndGlyphs">PFAS treated material</text>
<text x="1752" y="815.2" font-size="32.6" fill="#111" stroke="#111" stroke-width="1.1" textLength="305.5" lengthAdjust="spacingAndGlyphs">&amp; food packaging</text>
<rect x="1472" y="1375.2" width="174.5" height="94.9" rx="47.44999999999993" ry="47.44999999999993" fill="#fff"/>
<text x="1513" y="1410.8" font-size="32.6" fill="#111" stroke="#111" stroke-width="1.1" textLength="89.6" lengthAdjust="spacingAndGlyphs">Plant</text>
<text x="1497.6" y="1451.8" font-size="32.6" fill="#111" stroke="#111" stroke-width="1.1" textLength="119.4" lengthAdjust="spacingAndGlyphs">uptake</text>
<rect x="1715.2" y="1344.7" width="139.1" height="50.8" rx="25.399999999999977" ry="25.399999999999977" fill="#fff"/>
<text x="1743.4" y="1381" font-size="32.6" fill="#111" stroke="#111" stroke-width="1.1" textLength="83.8" lengthAdjust="spacingAndGlyphs">Food</text>
<rect x="532.4" y="1625" width="419.3" height="102.0" rx="45" ry="45" fill="#fff"/>
<text x="580.6" y="1665.8" font-size="32.6" fill="#111" stroke="#111" stroke-width="1.1" textLength="320.1" lengthAdjust="spacingAndGlyphs">Wastewater direct</text>
<text x="564.9" y="1706.6" font-size="32.6" fill="#111" stroke="#111" stroke-width="1.1" textLength="349.7" lengthAdjust="spacingAndGlyphs">discharge to stream</text>
<rect x="1928.5" y="1867.8" width="306.5" height="67.2" rx="33.60000000000002" ry="33.60000000000002" fill="#fff"/>
<text x="1948.5" y="1911.9" font-size="32.6" fill="#111" stroke="#111" stroke-width="1.1" textLength="262.9" lengthAdjust="spacingAndGlyphs">Drinking water</text>
<text x="1237" y="1837.4" font-size="33.2" fill="#eef9ff" stroke="#eef9ff" stroke-width="1.25" textLength="87.0" lengthAdjust="spacingAndGlyphs">River</text>
<text x="1164" y="1991.9" font-size="33.2" fill="#f2f9fc" stroke="#f2f9fc" stroke-width="1.25" textLength="232.0" lengthAdjust="spacingAndGlyphs">Groundwater</text>
</g>
</svg>
</body></html>
